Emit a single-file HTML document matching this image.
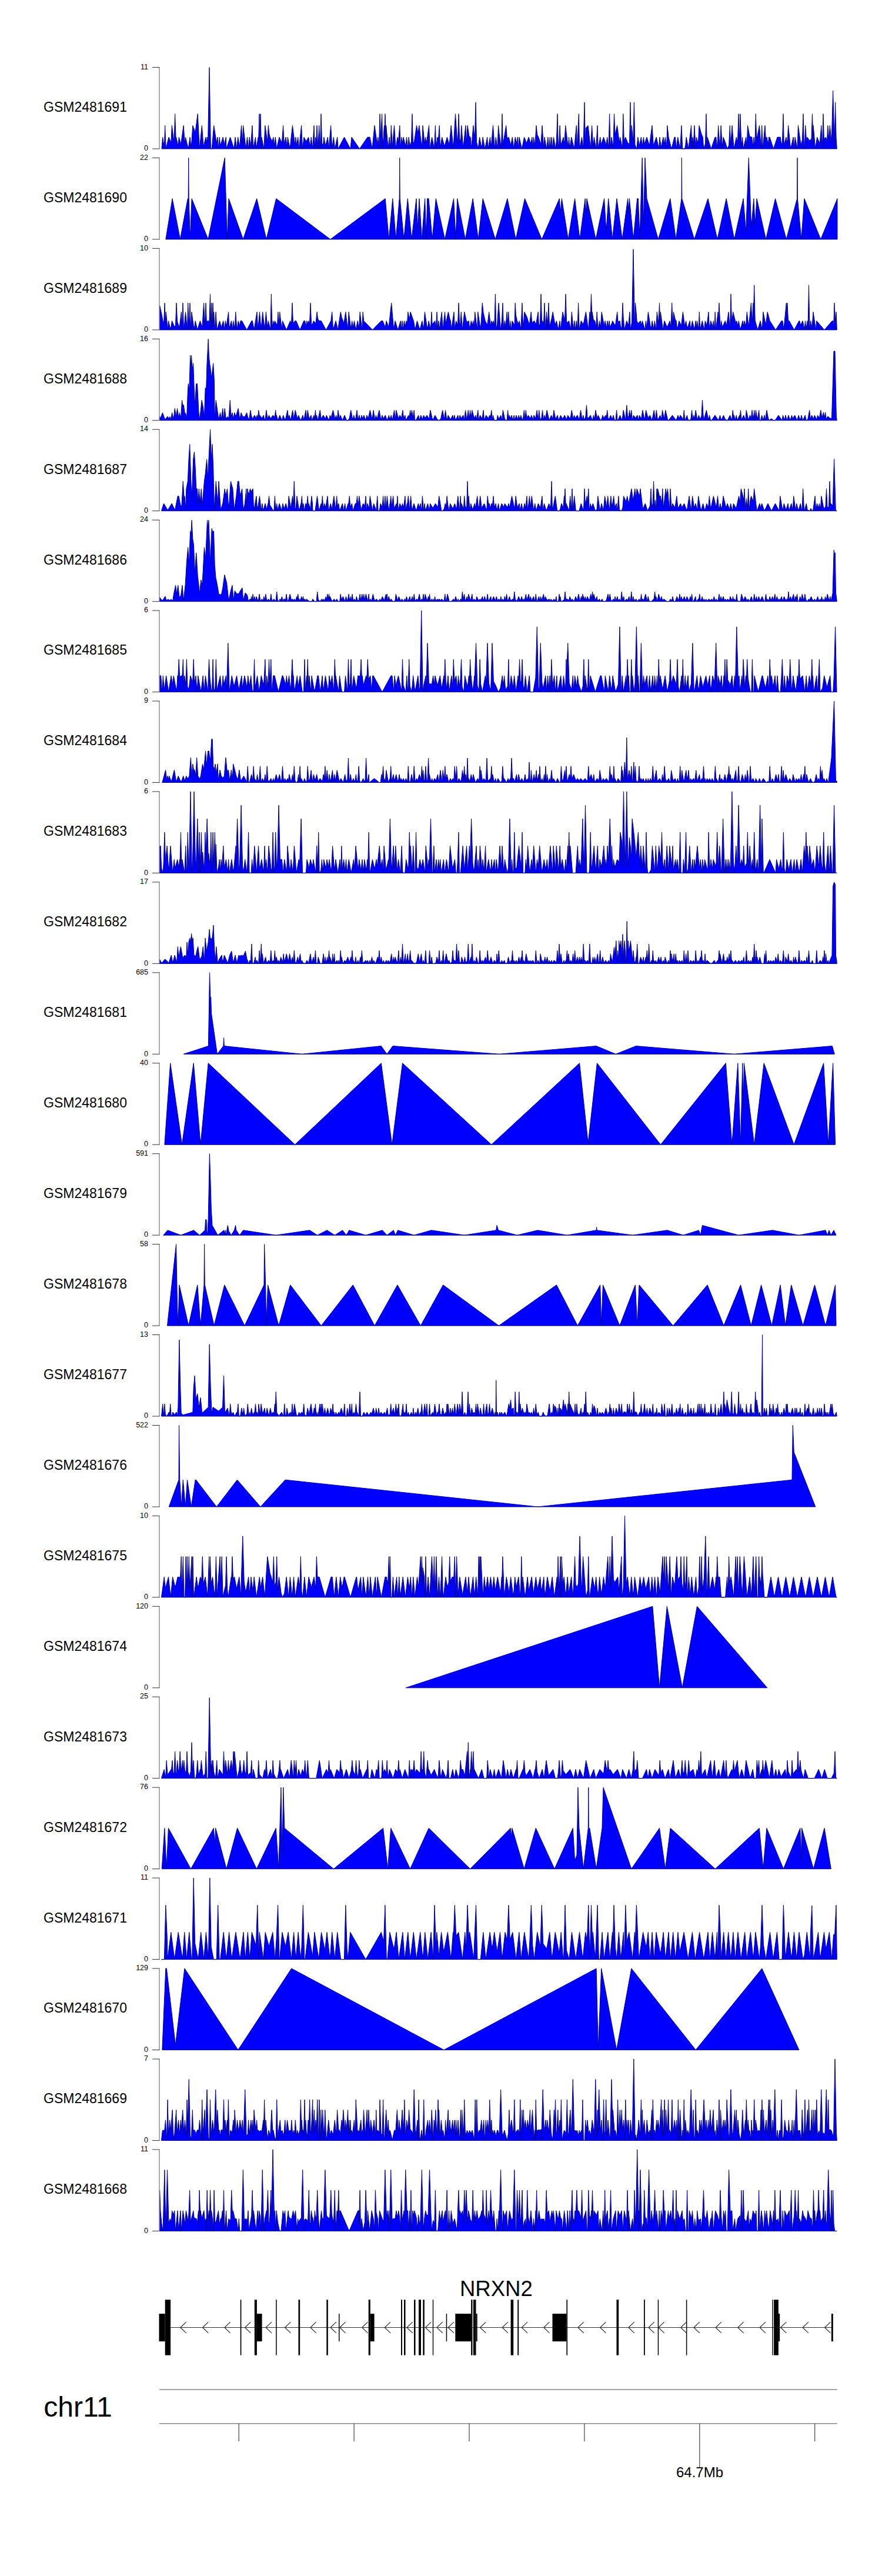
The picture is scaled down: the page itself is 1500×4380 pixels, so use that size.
<!DOCTYPE html><html><head><meta charset="utf-8"><style>
html,body{margin:0;padding:0;background:#fff;width:1500px;height:4380px;overflow:hidden}
svg{display:block}
text{font-family:"Liberation Sans",sans-serif}
.lab{font-size:23px;fill:#000}
.ax{font-size:12.5px;fill:#000;text-anchor:end}
</style></head><body>
<svg width="1500" height="4380" viewBox="0 0 1500 4380">
<rect width="1500" height="4380" fill="#fff"/>
<polygon points="275,253 276.6,233.2 279.4,250.5 280.6,213.4 282.2,253 287,233.2 291,242.4 292.3,213.4 296.1,241.9 297.6,193.6 299.1,234.9 299.6,233.2 303.1,248.6 304.3,233.2 307.7,245.4 312.1,213.4 314.3,244.1 315.5,233.2 320.2,253 323.1,233.2 325.1,253 327.8,213.4 332.1,225 336.2,193.6 339.3,253 343.4,213.4 346,249.4 350,233.2 351.2,243.2 352.5,233.2 353.6,244.3 356,114.5 358.4,253 360.3,253 363.7,213.4 368.4,243.1 370.1,233.2 371.4,253 373.4,233.2 374.6,248.5 379.2,233.2 381.5,245.9 384.3,233.2 385,253 391.5,233.2 398,253 400,233.2 402.6,253 404.7,233.2 407.6,250.5 410.5,213.4 412.4,245.2 413.6,213.4 418.2,253 420.5,233.2 422.4,253 424.3,233.2 426.3,250.8 429,213.4 430.7,253 434.5,233.2 435.9,253 439.2,233.2 439.5,245 441,193.6 441.5,238.6 443,193.6 444.5,253 444.9,233.2 448.9,253 450.8,213.4 455,241.7 456.3,213.4 457.8,227.2 459.2,233.2 463,240.5 464.8,233.2 466.5,246.8 468.4,233.2 470.5,253 474.9,233.2 479.4,243.2 481.6,213.4 483.1,244.4 486.2,233.2 488.1,253 489.3,233.2 493.1,253 497.4,213.4 501.7,246.5 502.9,233.2 504.6,246.9 506.7,233.2 508.5,253 512.6,213.4 514.5,253 517,233.2 520.7,240.5 524.6,233.2 527.5,249.4 529.2,233.2 531.7,253 534,213.4 535.2,253 536.5,233.2 537.8,239.9 539,213.4 540.8,253 542.7,213.4 544.5,253 546,193.6 547.5,243.1 549.5,248 550.8,233.2 553.6,248 557.4,233.2 559.3,253 562.6,213.4 564.8,253 567.4,233.2 569.5,253 573.7,233.2 575,253 585.5,233.2 596,253 598,233.2 611.5,253 625,233.2 629,233.2 633,253 637,213.4 641.5,244.7 642.8,233.2 644.5,253 646,193.6 647.5,234.3 649.6,193.6 650.8,253 653.5,213.4 653.5,236.9 655,193.6 656.5,235.5 656.7,213.4 660.2,253 662.1,233.2 664,253 665.3,213.4 667.3,249.8 670.5,213.4 673,253 676,233.2 677.3,243.8 679.8,213.4 681.2,253 682.7,233.2 684.2,243.5 686,233.2 690,248.9 691.5,233.2 693.8,253 695.2,233.2 697,248.3 699.5,241 701,193.6 702.5,245.4 704.6,240.1 708.5,213.4 710.8,226.7 712.9,213.4 717.5,253 719,213.4 722.2,244.3 723.7,233.2 725.2,244.2 729.5,213.4 731.2,253 734.6,233.2 738.5,253 740.4,213.4 741.6,253 743.8,233.2 745.3,238.7 747.3,213.4 748.6,253 751.7,233.2 755.9,248.9 760.4,233.2 764.1,246.5 767.2,213.4 771,253 774.5,193.6 777.6,240.1 778.5,241.8 780,193.6 781.5,234.7 783.3,243.3 784.8,213.4 787.7,253 791.9,213.4 793.3,243.7 795.1,213.4 797.9,231.7 800.1,233.2 801.6,253 804.9,213.4 807.5,238.5 807.5,235.6 809,173.9 810.5,241.3 813.2,253 815.6,233.2 819.2,253 821.1,233.2 824.7,253 828.7,233.2 829.9,253 833.6,233.2 835,253 838.5,213.4 841.3,253 843.3,233.2 846,253 847.6,213.4 848.8,225.9 852.5,253 854,193.6 855.5,253 856,242.5 860.7,213.4 862.4,235.6 865.2,233.2 868.8,247.1 871.3,233.2 873.8,253 876.2,233.2 878.9,244 880.2,233.2 881.5,253 883,233.2 887.5,253 891.6,233.2 895.6,243.7 899,233.2 902.7,244.2 904.9,233.2 906.2,253 907.5,233.2 909.9,246.8 912,213.4 913.7,229.1 915.8,233.2 920,245.7 922,213.4 924.8,253 926,233.2 929.6,253 931.9,233.2 933.4,253 935.4,233.2 936.6,253 938.1,233.2 939.3,253 941.5,233.2 944.8,253 946.5,238.8 948,193.6 949.5,253 950.7,245.9 952.1,213.4 953.7,247.3 958.2,233.2 959.8,246 961.7,213.4 966.3,251 967.6,233.2 968.8,253 971.8,233.2 976.5,253 980.3,213.4 981.5,253 984.3,193.6 985.6,253 989.6,233.2 991.6,253 992.5,234.8 994,173.9 995.5,253 996.2,218 1000.1,213.4 1004.5,253 1006.6,213.4 1009,253 1010.4,233.2 1013.7,253 1016,213.4 1017.2,253 1020.8,233.2 1022.3,245.9 1026.5,233.2 1030.8,246.1 1032.7,233.2 1034.7,248.8 1035.1,253 1036.6,193.6 1038.1,247 1038.7,247.2 1039.9,233.2 1042.9,249.9 1044.5,193.6 1046,229.2 1049.6,213.4 1053.3,242.6 1054.7,233.2 1058.6,253 1059.8,193.6 1061.3,241 1063.6,233.2 1067.5,242.4 1070.5,245.8 1072,173.9 1073.5,246.7 1074.2,213.4 1076.9,239.8 1078.4,173.9 1079.9,245.9 1082.9,253 1084.8,233.2 1087.4,247.7 1090.4,233.2 1092.3,248.4 1094.5,233.2 1095.9,245.3 1100,233.2 1104.4,247.7 1109,213.4 1111.3,247.8 1116.2,233.2 1120.6,253 1121.9,233.2 1124.4,250.7 1127.9,233.2 1129.7,245.1 1131.4,233.2 1133.5,253 1134.9,213.4 1137,233.2 1142,253 1147,233.2 1148.4,233.2 1150.2,253 1152.7,233.2 1156.7,253 1159,213.4 1160.7,253 1164.5,253 1165.8,246.8 1167.2,233.2 1170.8,253 1175.6,213.4 1176.8,253 1178,233.2 1179.2,250.3 1181,213.4 1183.1,253 1184.3,233.2 1187.4,244.6 1189,213.4 1192.7,227.3 1195.3,233.2 1196.7,253 1199.5,244.5 1201,193.6 1202.5,253 1203,233.2 1209.5,253 1216,233.2 1217.7,233.2 1220.1,253 1221.6,213.4 1224.2,253 1226.1,213.4 1228.3,249.8 1230.1,233.2 1234.1,243.7 1236.9,253 1239.6,247.2 1241.3,213.4 1242.6,248.1 1245.1,213.4 1248.1,253 1252.4,233.2 1254.4,246.3 1256.1,193.6 1257.5,240 1259,193.6 1260.5,238.4 1260.6,253 1262.6,233.2 1264,253 1268.7,233.2 1270.2,253 1271.5,213.4 1275,232.1 1278.8,233.2 1280.5,249.2 1282.1,233.2 1283.8,249.5 1285.3,193.6 1286.7,237.8 1291.5,213.4 1294.5,253 1295.7,213.4 1297.2,253 1301,213.4 1302.2,234.4 1304.2,233.2 1306.2,246.7 1307.6,233.2 1309,233.2 1315.5,253 1322,233.2 1327.2,233.2 1329.1,247.2 1330.5,241 1332,193.6 1333.5,253 1334.2,244.8 1336.9,233.2 1339.1,244.4 1340.6,213.4 1344.6,253 1349.2,233.2 1350.8,253 1352.1,233.2 1356.2,253 1357.4,213.4 1362.2,246.9 1364.5,237.5 1366,193.6 1367.5,253 1368.3,253 1369.7,213.4 1371.5,238.2 1373.3,233.2 1376.1,238.9 1380,236.6 1381.5,193.6 1383,246.2 1383.2,213.4 1386.6,253 1389.6,233.2 1394.2,244.4 1396.8,213.4 1398.5,253 1400,193.6 1401.5,241.2 1401.5,236.6 1404.4,233.2 1406.5,240.8 1407.8,213.4 1409.8,238.4 1411.3,213.4 1414.2,243.1 1416.6,154.1 1419,237.9 1419.1,253 1420.6,173.9 1422.1,235.2 1423.3,253" fill="#0000ff" stroke="#000090" stroke-width="1" stroke-linejoin="miter" stroke-miterlimit="40"/>
<path d="M271.0 114.5V253" fill="none" stroke="#888" stroke-width="1.4"/>
<path d="M259.1 114.5H271.5M259.1 253H271.5" fill="none" stroke="#333" stroke-width="1"/>
<text x="252" y="117.7" class="ax">11</text>
<text x="252" y="256.2" class="ax">0</text>
<text x="74" y="189.8" class="lab">GSM2481691</text>
<polygon points="281.9,406.9 281.9,406.9 293.1,337.7 306.4,406.9 319.3,337.7 320.2,337.7 320.7,268.4 321.2,337.7 323.4,406.9 326.1,337.7 354,406.9 382.2,268.4 386.3,406.9 389,337.7 413.5,406.9 436.7,337.7 453,406.9 469.7,337.7 561.8,406.9 655.2,337.7 661.4,406.9 667.8,337.7 673.3,406.9 679.2,337.7 679.7,268.4 680.2,337.7 686.9,406.9 693.3,337.7 700.1,406.9 708,337.7 710.3,388 713,337.7 717.5,406.9 722.6,337.7 725,406.9 726.7,337.7 729,337.7 735.2,406.9 741.3,337.7 756.6,406.9 771.6,337.7 775,406.9 777.7,337.7 791.3,406.9 804.2,337.7 813.4,406.9 821.2,337.7 842.3,406.9 862.9,337.7 877.2,406.9 892.5,337.7 921.4,406.9 951.4,337.7 953,362.9 955.4,337.7 966.3,406.9 977.6,337.7 986,406.9 995.2,337.7 996.5,362.9 998,337.7 1013.3,406.9 1027.6,337.7 1031,394.3 1034.7,337.7 1041.5,406.9 1049,337.7 1058.2,406.9 1067.7,337.7 1069,362.9 1070.4,337.7 1077.2,406.9 1083.7,337.7 1085.4,337.7 1088,406.9 1092.2,268.4 1094.5,381.7 1097,268.4 1100,337.7 1119.4,406.9 1139.8,337.7 1149.5,406.9 1159,337.7 1159.4,268.4 1159.8,337.7 1180.8,406.9 1204,337.7 1220,406.9 1235.2,337.7 1248.8,406.9 1264.1,337.7 1268.6,394.3 1273.3,268.4 1277.8,388 1281.8,337.7 1284.2,381.7 1287,337.7 1302.6,406.9 1318.6,337.7 1337.3,406.9 1355.6,337.7 1356,268.4 1356.4,337.7 1362.8,406.9 1367.9,337.7 1395.8,406.9 1424,337.7 1424,406.9 1424,406.9" fill="#0000ff" stroke="#000090" stroke-width="1" stroke-linejoin="miter" stroke-miterlimit="40"/>
<path d="M271.0 268.4V406.9" fill="none" stroke="#888" stroke-width="1.4"/>
<path d="M259.1 268.4H271.5M259.1 406.9H271.5" fill="none" stroke="#333" stroke-width="1"/>
<text x="252" y="271.6" class="ax">22</text>
<text x="252" y="410.1" class="ax">0</text>
<text x="74" y="343.8" class="lab">GSM2481690</text>
<polygon points="271.6,560.9 271.6,519.3 274.1,530.4 278.5,553.2 280,515.2 281.5,548.8 282.3,530.4 285.4,560.9 286.6,545.6 290,560.9 292.5,545.6 296.4,554.9 298.5,554.1 300,515.2 301.5,546.8 305.1,557.2 308.4,530.4 309.5,555.2 311,515.2 312.5,560.9 312.9,560.9 315.5,530.4 318.5,560.9 319.7,515.2 321.5,554.8 323,515.2 324.5,560.9 325.9,530.4 330.2,560.9 332.2,545.6 335.7,560.9 340.3,545.6 343.9,556.4 346.6,515.2 348.5,553.2 350,515.2 351.5,551.1 352.2,546.1 354.8,545.6 356,546.8 357.5,499.9 359,560.9 359.7,515.2 360.5,554.6 362,515.2 363.5,555.4 363.6,530.4 365.5,560.9 367.1,530.4 368.9,560.9 373.6,545.6 376.3,556.9 379.7,545.6 381.7,560.9 383.3,545.6 384.8,556.1 388.6,530.4 389.8,558.8 393.4,545.6 395.5,560.9 396.7,545.6 399.3,560.9 400.7,530.4 403,560.9 405.4,545.6 407.6,554.8 409.1,545.6 411.4,545.6 419.7,560.9 427.9,545.6 429.3,545.6 432.1,560.9 437,530.4 438.7,560.9 441.5,530.4 444,560.9 446.7,530.4 450.2,560.9 452.4,530.4 455,560.9 456.2,545.6 459.9,560.9 461.4,499.9 462.9,560.9 464.5,545.6 466.1,552.2 467.3,545.6 471.6,553.3 472.9,530.4 474.1,554.7 475.7,530.4 479.4,560.9 480.5,545.6 487.1,560.9 493.7,545.6 495.5,551.9 497,515.2 498.5,550.1 501.8,545.6 503.6,545.6 510.1,560.9 516.7,545.6 518.7,545.6 520.3,555.7 521.8,545.6 523.3,551.4 524.7,545.6 526.5,551.3 528,515.2 529.5,549.9 530.7,553.3 533.3,545.6 537,549.8 539.1,530.4 540.5,542.1 542.7,545.6 546.3,545.6 554.5,560.9 562.8,545.6 564.7,530.4 566.6,560.9 571.1,545.6 574.6,560.9 579.3,530.4 581,539.4 583.5,545.6 584.8,550.5 587.8,530.4 591.5,560.9 593.1,530.4 597,560.9 598.6,545.6 600.7,556.7 602.5,545.6 605.2,560.9 608.3,545.6 610.4,560.9 612.2,530.4 615.7,560.9 617.2,530.4 618.7,545.6 633.5,560.9 648.3,545.6 650.9,545.6 655.1,556.5 657.1,545.6 661.1,556.4 665.7,515.2 669.7,560.9 672,545.6 676.7,560.9 681.3,545.6 682.6,560.9 684,545.6 685.2,560.9 687.4,545.6 689.1,556.2 690.9,545.6 692.5,551.5 693.8,530.4 696.3,543.4 698,530.4 702.2,542.3 703.5,545.6 705.9,560.9 709.4,545.6 714.1,560.9 717.9,545.6 720.4,560.9 722.4,530.4 727,560.9 729,545.6 732.4,560.9 733.9,530.4 735.1,551.4 739.9,545.6 741.2,560.9 743,530.4 744.7,560.9 745.9,545.6 747.1,560.9 751.3,530.4 753.1,560.9 756.6,530.4 757.9,550.9 762.4,530.4 765.1,542.4 766.4,545.6 767.6,560.9 772,530.4 773.5,560.9 775.6,545.6 778.5,553.5 780,515.2 781.5,549.2 782.8,551.5 784.3,530.4 786.4,560.9 789.8,530.4 793.7,547.7 797.4,545.6 798.7,560.9 801.2,545.6 803.4,552.9 804.9,545.6 806.1,560.9 807.7,530.4 811.6,560.9 812.8,530.4 817.4,560.9 820.3,515.2 822.1,531.8 825.2,545.6 828.9,552.5 831.7,530.4 834.4,554.3 835.6,545.6 838,550.2 839.2,545.6 840.9,553.8 842.4,499.9 843.9,560.9 845.7,550.3 848,515.2 851.3,560.9 853.5,546 855,515.2 856.5,560.9 858.3,545.6 859.9,556.2 862.2,530.4 863.4,551.4 864.8,530.4 866.3,560.9 867.6,545.6 869.5,560.9 871,545.6 875,553 876.2,515.2 877.4,536.1 879.5,545.6 882,550.9 883.3,545.6 886.2,560.9 886.5,546.2 888,515.2 889.5,553.2 890.1,556.9 891.9,530.4 896.3,539.3 898.1,545.6 900.3,552.6 903.2,530.4 904.7,548.5 908.9,545.6 911.5,552.1 915.2,530.4 916.5,555.6 918.5,550 920,499.9 921.5,546.7 922.5,545.6 924.5,550.9 926,515.2 927.5,560.9 929.6,530.4 931.3,560.9 931.5,550.6 933,515.2 934.5,556.2 938.1,541.6 940.2,530.4 944,552.8 946.5,545.6 949.3,560.9 952,545.6 953.4,560.9 957,530.4 960.5,545.9 962,499.9 963.5,546.1 964.4,548.9 967.6,545.6 970.6,560.9 972.3,530.4 975.2,560.9 976.8,545.6 978.6,560.9 980.2,545.6 982.1,560.9 983.6,515.2 985.1,560.9 988.2,545.6 992.1,551.7 996.4,530.4 1000.6,560.9 1003,530.4 1004,546.4 1005.5,499.9 1007,545.9 1007.2,530.4 1009.1,542.9 1011.7,545.6 1013.9,555.7 1015.2,530.4 1017.1,560.9 1019.6,545.6 1021.1,560.9 1023.2,530.4 1027.4,553.8 1029.1,545.6 1031.6,558 1033,545.6 1034.4,555.4 1036.1,545.6 1037.6,557.1 1041.9,545.6 1046.4,554.4 1049.7,530.4 1051,547.3 1054.2,545.6 1056.3,560.9 1057.5,553.5 1059,515.2 1060.5,547.8 1060.7,545.6 1061.9,560.9 1065.8,545.6 1068.9,553.1 1070.9,530.4 1072.3,560.9 1074.6,548.1 1077,423.7 1079.4,551.9 1079.9,552.3 1080.5,515.2 1081.9,529.5 1083.1,545.6 1084.9,550 1089.3,545.6 1090.8,553.6 1092.4,545.6 1096.9,560.9 1098.3,545.6 1099.9,558.1 1102.4,530.4 1107.1,560.9 1109.1,545.6 1112.1,560.9 1113.3,545.6 1115.9,560.9 1117.3,530.4 1120,550.8 1121.5,515.2 1123,560.9 1123.4,530.4 1127.5,560.9 1129.9,545.6 1134.6,556.3 1139.2,545.6 1140.8,555.4 1141.2,552.9 1142.7,515.2 1144.2,553.3 1145.4,530.4 1148.3,542.9 1150.1,545.6 1151.7,560.9 1154.9,545.6 1158.7,553.7 1161.4,530.4 1164.7,555.7 1166.6,545.6 1168.8,558.3 1173.3,545.6 1174.6,560.9 1177.5,545.6 1181.2,560.9 1183,545.6 1184.2,558.5 1185.5,545.6 1188.1,560.9 1189.3,530.4 1190.7,560.9 1194.3,545.6 1197.7,560.9 1199.3,545.6 1202,554.4 1205,530.4 1206.6,560.9 1208.8,545.6 1211.9,555.5 1213.3,545.6 1215,560.9 1216.2,530.4 1217.4,560.9 1221.1,530.4 1221.5,550.5 1223,515.2 1224.5,546.5 1224.7,560.9 1226.6,545.6 1228.6,556.2 1233.3,545.6 1235.7,553.8 1239,530.4 1241.5,560.9 1243,499.9 1244.5,549 1246.7,530.4 1251.2,548.6 1252.7,545.6 1255,554.2 1256.3,545.6 1258.9,560.9 1263.1,545.6 1264.4,554.4 1265.9,545.6 1268.4,555.7 1270.3,530.4 1273.3,556.2 1277.4,515.2 1279.3,550.6 1280.9,515.2 1281.2,545.7 1282.7,484.7 1284.2,545.8 1284.3,545.6 1288.6,560.9 1293.1,545.6 1296.2,560.9 1297.9,530.4 1302.4,552.5 1305.2,530.4 1309.2,545.6 1319.1,560.9 1329.1,545.6 1330.9,545.6 1332.9,560.9 1337.3,515.2 1337.5,547.1 1339,515.2 1340.5,546 1341.6,545.6 1342.3,545.6 1350.6,560.9 1358.9,545.6 1359.8,545.6 1361.3,552.9 1365.2,545.6 1368.1,560.9 1369.5,545.6 1371,560.9 1372.9,545.6 1374,560.9 1375.5,484.7 1377,560.9 1378.7,545.6 1381,557 1383,530.4 1387.6,560.9 1388.8,545.6 1402,560.9 1415.3,545.6 1416.8,545.6 1417.5,560.9 1419,515.2 1420.5,546.8 1422,530.4 1423.3,560.9" fill="#0000ff" stroke="#000090" stroke-width="1" stroke-linejoin="miter" stroke-miterlimit="40"/>
<path d="M271.0 422.4V560.9" fill="none" stroke="#888" stroke-width="1.4"/>
<path d="M259.1 422.4H271.5M259.1 560.9H271.5" fill="none" stroke="#333" stroke-width="1"/>
<text x="252" y="425.6" class="ax">10</text>
<text x="252" y="564.1" class="ax">0</text>
<text x="74" y="497.7" class="lab">GSM2481689</text>
<polygon points="271.6,714.8 271.6,707.9 271.7,708.4 272.6,711.8 276.5,701.7 280.5,713.5 285,708.1 287,711.8 289,708.4 290.7,713.5 292.6,701.7 295.2,713.5 297.2,694.5 299.8,708.4 301.5,694.5 303.7,710.1 305.4,701.7 307.4,713.5 309.5,680.5 310.8,689.8 312.2,688.1 314.2,701.7 315.9,703.3 317.6,713.5 319.3,666 320.2,652.5 321.9,662.7 323.6,604.2 324.4,622 325.6,604.2 327,628.7 328.7,617.7 329.9,652.5 331.2,689.8 333.8,652.5 335.5,652.5 338,701.7 339.7,713.5 343.1,680.5 345.7,693.2 347.4,713.5 349.1,660.1 350.8,659.3 352,618.6 354.2,576.5 355.4,605 356.7,618.6 357.9,625.4 359.3,642.3 361,632.1 362.7,617.7 364.4,647.4 365.2,713.5 367.3,680.5 370.3,701.7 372,713.5 374.6,701.7 376.3,713.5 378.8,694.5 380.5,713.5 382.2,694.5 384.3,711.8 387.3,708.4 389,711.8 391.3,680.5 392.8,708.4 395,701.7 396.7,711.8 398.9,701.7 401,708.4 405.2,694.5 407.8,713.5 410,701.7 412.9,708.4 416.3,708.4 419.7,701.7 420.6,706.1 423.4,714.8 424.4,708.6 425.9,697.5 427.4,706.4 429.4,712.3 432.9,706.1 435.5,710.9 437.2,706.1 438.2,714.8 439.7,697.5 441.2,706.5 441.7,706.1 445.7,711.1 448.2,706.1 450.3,714.8 451.4,710.7 452.9,697.5 454.4,707.7 455.9,711.7 457.4,706.1 460.3,711.7 464.1,706.1 467.2,709.5 468.7,697.5 470.2,714.8 470.3,706.1 472.5,714.8 475.8,706.1 479.5,714.8 481.7,706.1 485.1,714.8 489,697.5 490.5,711.2 492,706.1 494.4,714.8 497.7,697.5 499.5,712.4 502.3,697.5 505.8,712.7 507.5,706.1 511.5,714.8 515,706.1 516.8,714.8 520,697.5 521.7,714.8 523.2,697.5 525.8,712.7 529,706.1 530.5,714.8 533.9,706.1 534.9,714.8 536.4,697.5 537.9,714.8 538.5,706.1 540.5,714.8 544.3,697.5 546.1,712 549.9,706.1 553.3,712.2 555.3,706.1 559.1,714.8 561.3,706.1 562.9,710.6 566.4,697.5 569.9,712.7 571.6,706.1 573.3,714.8 574.9,697.5 577.3,711.5 578.9,706.1 582.5,714.8 586,706.1 589.6,714.8 592,714.8 594.3,710.6 596.7,697.5 600.1,714.8 601.7,706.1 604.4,714.8 607.1,697.5 608.8,714.8 610.9,706.1 613.2,714.8 614.8,706.1 617,711.6 618.8,706.1 622,714.8 623.8,706.1 626.2,711.8 629.3,697.5 633,713.3 635.1,697.5 637.8,714.8 639.4,706.1 641.1,713.1 644.9,697.5 648.1,714.8 649.9,706.1 652.2,711.8 655.3,706.1 658.3,714.8 661.4,706.1 662.9,713.3 665.3,706.1 667.1,714.8 670.6,697.5 672.2,714.8 673.8,697.5 677.7,711.8 680,706.1 682.7,710.5 684.9,697.5 686.7,711.8 688.9,706.1 690.5,714.8 694.6,706.1 696.1,710 697.6,697.5 699.1,709.7 700.3,697.5 702.7,709.2 704.2,697.5 705.7,714.8 708.1,713.3 711.7,706.1 713.3,714.8 715.7,706.1 718.5,712.7 720.5,706.1 723,710.9 726,706.1 729.8,712.4 731.9,697.5 735.9,714.8 739.8,706.1 743.9,713.4 746.6,714.8 749.7,711.7 752.6,697.5 755.7,713.1 757.5,697.5 760,714.8 762.2,706.1 766.2,713.2 769.9,706.1 771.4,712.8 773,706.1 774.7,714.8 778.8,706.1 780.5,714.8 782.1,706.1 784.3,711 787.9,706.1 789.5,714.8 791.6,697.5 793.8,714.8 794.8,707.5 796.3,697.5 797.8,711.8 798,714.8 799.5,697.5 801.1,710.8 802.8,697.5 806.8,711.7 808.9,706.1 810.4,712.9 811.3,708.2 812.8,697.5 814.3,714.8 814.8,712.6 816.4,706.1 820,711.8 822.1,697.5 823.6,714.8 826.7,706.1 830.7,711.5 832.5,706.1 834.3,708.6 835.8,697.5 837.3,714.8 838.4,706.1 840.5,713.8 842.1,714.8 844.8,714.8 846.3,706.1 848.3,712.6 851.8,706.1 853.6,714.8 855.4,697.5 858.7,713.4 862.1,714.8 863.6,697.5 865.1,714.8 866,706.1 868.1,711.4 870.2,706.1 872.3,714.8 874.1,706.1 875.7,714.8 877.8,706.1 880.6,712.9 882.2,706.1 884.1,713.4 885.7,706.1 888.5,714.8 889.9,708.9 891.4,697.5 892.9,714.8 894.3,697.5 895.9,710.6 898.3,706.1 902.1,711.4 903.8,706.1 906.5,713.4 908,706.1 910.9,711.4 913.2,697.5 915.2,714.8 916.8,697.5 918.7,714.8 921.1,709.7 922.6,697.5 924.1,714.8 925.7,706.1 927.6,711.9 930.1,697.5 934.1,714.8 937.5,706.1 940.2,712 941.9,697.5 944.9,713 948.1,706.1 950.2,714.8 953.4,706.1 957,712.4 960.2,706.1 963.8,713.5 965.6,706.1 969.6,711.9 970.8,706.9 972.3,697.5 973.8,706.6 974.7,713.9 976.5,706.1 978,710.9 982,706.1 985.2,713.8 987.5,697.5 990.2,714.8 991.8,706.1 993.9,714.8 996,707.8 997.5,688.8 999,710.3 1000.6,711 1004.1,706.1 1007.6,714.8 1009.4,706.1 1011,714.8 1012.9,697.5 1015.7,712.1 1017.3,706.1 1019.5,710.6 1021.2,714.8 1023.2,712.2 1025.1,706.1 1026.7,710.8 1030.3,706.1 1031.2,711.4 1032.7,697.5 1034.2,710.7 1035.6,713 1038.5,706.1 1041.3,713.3 1043.1,706.1 1045.4,714.8 1047.1,714.8 1048.6,697.5 1050.1,714.8 1051,714.8 1054.4,706.1 1058.1,714.8 1060.1,697.5 1064,714.8 1064.3,708.8 1065.8,688.8 1067.3,706.4 1069.1,711.1 1070.6,697.5 1072.3,709.7 1073.8,697.5 1075.3,714.8 1077.4,706.1 1080.5,710.5 1084,706.1 1085.6,714.8 1087.5,706.1 1090.5,712.6 1092.9,697.5 1096.1,714.8 1098.6,697.5 1102.1,710.6 1105.4,706.1 1108.8,714.8 1112.3,697.5 1114.5,714.8 1116.3,697.5 1118.6,714.8 1122.6,706.1 1125,712.6 1126.5,697.5 1129.6,712.5 1131.8,697.5 1135.9,714.8 1137,714.8 1143.5,706.1 1150,714.8 1152.9,706.1 1155.1,711.7 1157,706.1 1160.4,710.5 1161.8,714.8 1163.3,697.5 1164.8,714.8 1165.8,713.2 1168.4,706.1 1170,713.3 1173.8,714.8 1175.1,711.1 1176.6,697.5 1178.1,714.8 1179.4,706.1 1181.4,712.4 1181.7,708.7 1183.2,697.5 1184.7,706.7 1185.9,714.8 1188.3,706.1 1190.6,712.5 1193,707.7 1194.5,680.2 1196,706.2 1197.5,712.4 1201.4,697.5 1205,714.8 1206.5,706.1 1208.7,714.8 1210,714.8 1216,706.1 1222,714.8 1224.5,706.1 1226.8,714.8 1230.4,706.1 1233.4,712.9 1237.2,714.8 1239,711 1241.5,706.1 1244.6,714.8 1244.7,714.8 1246.2,697.5 1247.7,709.5 1248.6,706.1 1250.1,714.8 1252.4,706.1 1253.9,714.8 1257.7,706.1 1258,711.5 1259.5,697.5 1261,714.8 1261.6,712.4 1264.8,706.1 1267.8,714.8 1269.3,697.5 1272.9,714.8 1275.3,706.1 1277.5,710.7 1279,697.5 1281.2,714.8 1282.7,697.5 1284.2,714.8 1285.4,697.5 1287.9,711.5 1289.1,708.4 1290.6,697.5 1292.1,714.8 1293.7,714.8 1295.6,706.1 1298.1,714.8 1300,706.1 1301.5,714.8 1303.9,697.5 1306.5,710.9 1308.1,714.8 1311.8,711.7 1315.8,714.8 1318,714.8 1324,706.1 1330,714.8 1331.5,706.1 1334.2,714.8 1335.9,706.1 1338.4,714.8 1340.9,706.1 1343.9,714.8 1346.5,706.1 1348,711.9 1351.7,706.1 1355.7,714.8 1358.1,706.1 1361.1,714.8 1362.9,706.1 1365.4,714.8 1369.3,706.1 1371.1,714.8 1372.7,714.8 1374.3,710.7 1376.7,697.5 1378.3,712.5 1380.6,706.1 1383.4,712.4 1385.4,706.1 1388.9,713.8 1390.5,706.1 1393.4,711 1395.9,697.5 1398,710.6 1400.5,700.9 1402,712 1403.6,700.9 1405,712 1408,707.9 1411,710.6 1414.5,712 1418,597.1 1420,597.1 1422.3,707.9 1423.3,714.8" fill="#0000ff" stroke="#000090" stroke-width="1" stroke-linejoin="miter" stroke-miterlimit="40"/>
<path d="M271.0 576.3V714.8" fill="none" stroke="#888" stroke-width="1.4"/>
<path d="M259.1 576.3H271.5M259.1 714.8H271.5" fill="none" stroke="#333" stroke-width="1"/>
<text x="252" y="579.5" class="ax">16</text>
<text x="252" y="718" class="ax">0</text>
<text x="74" y="651.6" class="lab">GSM2481688</text>
<polygon points="274.5,868.7 278.5,856.1 285.3,867.4 292.1,856.1 297.6,867.4 302.3,843.4 304,843.4 306.6,857.3 308.8,862.4 311.3,818.3 313.4,850.5 314.2,843.7 315.9,867.4 316.8,831.8 319.3,818.3 321,781 322.7,755.5 324.4,806.4 326.1,850.5 328.7,781 330.4,768.3 332.1,793.7 333.8,831 335.5,831 336.7,855.6 338.4,831 340.1,855.6 342.3,831 344,860.7 347.4,818.3 349.1,806.4 351.6,781 353.7,813.2 355,781 357.6,730.5 359.3,781 361,755.5 362.7,793.7 364.4,867.4 367.3,818.3 370.3,857.3 372,818.3 375.4,867.4 378.8,855.6 380.5,843.7 382.2,831 383.9,843.7 386.5,831 389,867.4 392.4,818.3 395.9,831 398.4,867.4 401.8,843.7 404.4,818.3 406.1,818.3 408.6,843.7 411.7,831 413.7,867.4 416.3,857.3 418.8,831 420,867.4 420.9,830.9 422.9,841.8 425.6,830.9 427.2,836.2 430.1,830.9 431.7,868.7 436,843.5 437.8,868.7 441.5,843.5 444.3,868.7 445.9,856.1 447.6,868.7 451,856.1 453.6,866.1 455.8,856.1 456,856.8 457.5,843.5 459,858.4 463.5,866.2 465.9,868.7 467.4,843.5 468.9,868.7 470.6,856.1 472.2,867.2 475.2,856.1 479.1,868.7 480.8,856.1 483.4,865.4 486.1,856.1 489.5,868.7 491.1,843.5 494.7,864 497.5,843.5 498.8,858 500.3,818.4 501.8,863.6 503.1,864.7 504.9,843.5 508.8,868.7 511.8,856.1 511.9,857.7 513.4,843.5 514.9,868.7 515.8,856.1 517.6,868.7 519.7,856.1 521.8,858.2 523.3,843.5 524.8,868.7 525.2,856.1 527.7,866.1 528.4,858.8 529.9,843.5 531.4,856.2 532,868.7 534.4,868.7 535.9,868.7 539.5,843.5 542.4,868.7 546.1,856.1 546.8,863.9 548.3,843.5 549.8,863.5 550,865.9 551.6,856.1 553.8,862.7 557,843.5 559,868.7 562.3,856.1 564.5,866.2 567.9,843.5 571.1,868.7 572.6,843.5 574.1,860.6 575.8,856.1 577.7,868.7 582.4,856.1 584.4,868.7 586.7,856.1 588.3,868.7 592.1,856.1 592.8,857.1 594.3,843.5 595.8,862.3 598.5,856.1 600.2,868.7 604.3,856.1 606,856.2 607.5,843.5 609,863 610.8,843.5 614.1,867.3 617.5,856.1 620.5,860 622,843.5 623.5,868.7 624.9,856.1 627.6,865.2 629.3,843.5 633.4,868.7 635.6,856.1 640.1,868.7 640.2,863.9 641.7,843.5 643.2,868.7 645.3,868.7 647.1,856.1 650.1,862 651.6,843.5 653.1,868.7 654.9,843.5 656.8,865.3 658.3,843.5 661.1,868.7 663.2,856.1 663.2,857.9 664.7,843.5 666.2,860.6 668.7,843.5 670.3,864.4 674.3,856.1 674.4,868.7 675.9,843.5 677.4,868.7 680,856.1 682.7,862.5 684.6,856.1 686.2,865.1 688.9,843.5 690.5,868.7 692.3,856.1 692.8,856.6 694.3,843.5 695.8,858.9 696.4,868.7 698.6,843.5 700.7,868.7 703.9,856.1 707.9,868.7 711.3,856.1 713.4,863.5 714.9,856.1 716.9,868.7 718.4,843.5 720.5,868.7 722.1,856.1 723.6,868.7 727.5,856.1 730.1,868.7 731.6,856.1 736.2,863.9 740.5,856.1 744.6,862.8 746.7,843.5 750.9,868.7 752.8,868.7 755.5,864.6 757.2,856.1 758.6,862.3 760.1,843.5 761.6,858 763.8,868.7 765.6,856.1 770.1,865.1 773.5,856.1 776.3,867.2 778.8,843.5 781.7,868.7 783.2,843.5 784.7,868.7 784.8,856.1 788.1,865.1 788.2,868.7 789.7,843.5 791.2,860.7 792.7,862.5 793.5,868.7 795,818.4 796.5,860.5 797.1,843.5 799.1,868.7 800.7,856.1 804,866.8 807.2,856.1 808.7,864 811.7,843.5 814,868.7 816.7,843.5 819.2,863.6 823.6,856.1 827.7,868.7 829.2,843.5 830.7,856.7 832.3,856.1 833.8,865 835.8,856.1 837.6,858.5 839.1,843.5 840.6,863.2 843.3,856.1 844.9,868.7 847.7,856.1 849.3,868.7 853.2,856.1 856.9,862.4 858.4,856.1 863.1,863 864.9,856.1 866.7,863.3 870.5,843.5 875.3,866.2 877.1,843.5 879.9,863.1 883.2,856.1 884.7,868.7 886.8,856.1 889.8,868.7 891.9,856.1 894,863.4 895.9,843.5 897.6,868.7 900.5,843.5 902,864.1 904.3,843.5 907.7,868.7 909.7,856.1 912,868.7 915.3,856.1 919.1,863.4 921.9,843.5 923.4,868.7 925.5,856.1 929.1,868.7 933.6,856.1 936.5,864.5 938,818.4 939.5,868.7 940,865.9 944.3,843.5 947.7,868.7 951.1,868.7 952.7,865.9 954.9,856.1 957.9,863.3 959.5,843.5 959.5,861 961,830.9 962.5,864.7 963,856.1 967.8,868.7 969.7,843.5 971.5,868.7 973,830.9 974.5,868.7 976.7,843.5 979.3,868.7 981,868.7 984.9,868.7 988.3,856.1 990.9,864.2 992.5,868.7 994,830.9 995.5,859.3 998.3,843.5 999.3,857.8 1000.8,830.9 1002.3,868.7 1004.3,856.1 1005.8,864 1008.4,856.1 1011.9,866.9 1013.5,868.7 1015.2,865.1 1016.8,843.5 1020.5,868.7 1023,856.1 1026.2,868.7 1028.6,843.5 1031.8,862.7 1033.7,843.5 1036.3,868.7 1038.9,843.5 1040.8,863.6 1043.7,843.5 1045.6,863 1048.3,856.1 1049.8,868.7 1051.9,843.5 1053.5,866.9 1056.9,868.7 1059,863.1 1060.5,843.5 1064.8,852.9 1066.7,843.5 1069.2,856.7 1073.9,830.9 1076.8,851.1 1079.8,830.9 1081.3,846.5 1083.2,830.9 1087.5,844 1089,830.9 1093.3,865.7 1097.3,856.1 1101.4,868.7 1105.5,859.8 1107,830.9 1108.5,862.5 1110.1,857 1111.6,818.4 1113.1,864.2 1114.3,850.6 1115.5,868.7 1117,830.9 1118.5,864.1 1118.5,830.9 1121.6,844 1123.3,843.5 1125.3,858.6 1126.8,830.9 1128.3,864.4 1132.2,830.9 1133.7,843.6 1135.5,830.9 1138.5,868.7 1140,830.9 1141.5,856.3 1142.1,865.7 1143.7,856.1 1147.9,863.1 1150.9,843.5 1153,864.5 1157.5,856.1 1159.5,862.9 1163.6,856.1 1168.2,868.7 1172.1,843.5 1175.4,868.7 1177.6,843.5 1180.9,864.8 1183,856.1 1185.9,867.3 1187.7,843.5 1192.1,868.7 1195.6,856.1 1198.8,868.7 1201.8,856.1 1204.6,863.1 1206.4,843.5 1208.7,866 1213.4,843.5 1218.1,863.2 1220.5,843.5 1222.8,868.7 1224.8,856.1 1227.1,867.5 1230.1,843.5 1234.8,863.8 1237,856.1 1240.9,866.3 1242.6,856.1 1245.8,868.7 1247.3,856.1 1252,864.4 1256.6,843.5 1258.4,855.4 1260.3,830.9 1264.5,847.5 1264.5,862.2 1266,830.9 1267.5,864.9 1269.5,847.8 1271.2,868.7 1272.7,830.9 1274.2,868.7 1275.7,851.4 1277.5,843.5 1281.1,852.4 1282.6,830.9 1287.2,868.7 1291.9,856.1 1293.4,863.4 1295.7,856.1 1300,868.7 1306,856.1 1312,868.7 1312,868.7 1318.5,856.1 1325,868.7 1326.8,843.5 1331.1,868.7 1333.3,856.1 1336.8,867.2 1340.1,856.1 1341.8,868.7 1345.8,856.1 1348.2,868.7 1349.7,843.5 1353.3,868.7 1354.8,856.1 1357.8,868.7 1361.4,856.1 1363.7,868.7 1364.1,868.7 1365.6,830.9 1367.1,859.2 1368.2,868.7 1371.3,856.1 1373.1,866.7 1377,868.7 1379,864.5 1381.1,868.7 1382.8,867.1 1386.1,843.5 1387.7,868.7 1389.4,856.1 1391.9,864.1 1393.4,856.1 1395.2,868.7 1396.8,843.5 1401.1,865.3 1404,861.2 1405.5,830.9 1407,861.7 1409.5,863.3 1411,818.4 1412.5,859.7 1413,856.1 1416.2,859.8 1418.6,780.6 1421,859.7 1421.3,868.7 1423.3,868.7" fill="#0000ff" stroke="#000090" stroke-width="1" stroke-linejoin="miter" stroke-miterlimit="40"/>
<path d="M271.0 730.2V868.7" fill="none" stroke="#888" stroke-width="1.4"/>
<path d="M259.1 730.2H271.5M259.1 868.7H271.5" fill="none" stroke="#333" stroke-width="1"/>
<text x="252" y="733.4" class="ax">14</text>
<text x="252" y="871.9" class="ax">0</text>
<text x="74" y="805.6" class="lab">GSM2481687</text>
<polygon points="271.6,1022.7 271.6,1015.7 276,1021.5 281.1,1013.9 282.8,1020.7 286.2,1019 288.7,1020.7 291.3,1019 293.8,1021.5 295.5,1009.6 298.6,995.2 300.6,1009.6 302.8,995.2 304.9,1014.7 307.4,1013.9 310,995.2 312.2,1021.5 315.1,995.2 317.6,953.7 319.7,930.8 321.5,960.5 323.6,902.8 324.8,909.6 326.1,884.5 327.8,916.4 329.5,926.5 331.2,974 333.8,940.1 336.3,980.8 338,994.4 339.4,1009.6 341.8,985.9 344,994.4 347.4,930.8 349.6,950.3 352.5,884.5 353.3,896 355,884.5 357.6,957.1 360.1,898.6 361.8,904.5 363.5,902.8 365.2,960.5 366.9,981.7 369.5,994.4 372,1009.6 374.6,1011.3 376.8,1009.6 378.8,999.5 381.9,977.4 385.6,991 389,1021.5 392.4,1004.6 395,995.2 397.2,1021.5 399.3,1004.6 402.7,1009.6 406.1,1009.6 408.6,1004.6 412,999.5 413.7,1021.5 417.1,1007.9 420,1011.3 421.1,1014.3 422.5,1022.7 425,1018.5 426.3,1021.1 427.7,1014.3 428.9,1021.8 430.1,1010.2 431.3,1021.2 432.8,1014.3 434.3,1021.2 436.1,1014.3 438.7,1021.7 439.6,1019.5 441.1,1010.2 442.6,1020.2 443,1022.7 445.3,1018.5 447.5,1021.5 448.7,1014.3 450.1,1021.9 451.8,1010.2 453.9,1021.7 456.6,1018.5 459.3,1022.7 460.8,1010.2 462.3,1019.6 463.4,1021.5 465.9,1018.5 468.1,1021.6 469.2,1021 470.7,1006 472.2,1020.1 474.5,1022.7 476,1018.5 477.2,1021.4 479.4,1014.3 481.5,1022.7 482.7,1018.5 485.6,1019.6 487.1,1010.2 488.6,1020.5 490,1022.7 493.2,1010.2 495.6,1020.7 497.4,1018.5 499.1,1020.8 500.8,1018.5 502.4,1022.1 504.7,1014.3 505.3,1018.7 506.8,1010.2 508.3,1020.8 509.1,1018.5 510.6,1020.9 512.8,1014.3 514.3,1021 515.5,1014.3 516.8,1020.6 518.5,1018.5 520,1022.7 521.4,1018.5 523.6,1020.6 527.1,1022.7 530.1,1022.7 531.8,1018.5 535.1,1022.7 538.2,1022.7 539.7,1006 541.2,1019 544,1022.7 547.3,1018.5 548.5,1021.6 549.8,1018.5 551.2,1022 554.5,1014.3 555.7,1020.8 556.9,1010.2 558,1019.4 559.5,1010.2 561,1021.2 561.3,1014.3 564.9,1022.7 568.3,1018.5 570.7,1022.2 572.8,1018.5 575.3,1022.7 577.7,1022.7 579.2,1010.2 580.7,1019.8 583.4,1014.3 586.6,1022.7 588.4,1014.3 591,1022.7 593,1010.2 595,1022.2 596.5,1014.3 597.8,1022 599.1,1010.2 600.8,1022.7 602.4,1018.5 605,1021.6 606.2,1014.3 608.9,1022.7 610.6,1019.3 612.1,1010.2 613.6,1020.1 613.8,1021.9 615.8,1010.2 617.2,1019.5 618.7,1010.2 620.2,1020.5 622.3,1010.2 625.7,1022.7 627.1,1010.2 628.4,1022.7 629.9,1018.5 631.6,1022.7 634.4,1010.2 637,1021.6 640.2,1018.5 643.6,1022.2 646.1,1018.5 647.8,1021.6 650.2,1014.3 653.5,1020.8 656.5,1010.2 656.7,1021 658.2,1010.2 659.7,1022.7 661.1,1014.3 663.8,1021.6 665.2,1018.5 667.6,1021.8 669.6,1022.7 672,1021 673.3,1010.2 676.3,1021.6 678.2,1014.3 681.5,1021.8 683.5,1018.5 686.4,1022.7 688,1018.5 689.3,1021.3 691.5,1014.3 693.6,1022.7 697,1014.3 698.5,1022.7 701.4,1014.3 702.7,1022.7 704.2,1010.2 705.7,1020.5 706.9,1020.9 708.6,1018.5 710.6,1020.6 713.3,1010.2 715,1021 717.2,1018.5 718.4,1022.7 719.9,1010.2 721.9,1022.2 723.1,1010.2 726.3,1021.2 728.7,1014.3 729,1022.7 730.5,1010.2 732,1022.7 734,1018.5 735.3,1022.7 736.5,1018.5 738.2,1022.7 739.6,1014.3 740.9,1021.9 743.6,1018.5 745.1,1021.1 746.3,1018.5 749.8,1020.6 751.3,1018.5 753.9,1021.6 755.3,1020.9 756.8,1010.2 758.3,1022.7 758.7,1021.9 761.1,1010.2 764.2,1022.7 765.7,1022.7 769,1021.5 771,1018.5 773.1,1021.1 774.9,1014.3 777.7,1022.7 779.2,1018.5 780.4,1022.7 783.5,1018.5 784.9,1020.3 786.4,1006 787.9,1019.4 788.2,1019.6 789.7,1010.2 791.2,1022.7 791.7,1021.1 794.5,1014.3 795.7,1022.7 796.9,1010.2 800.3,1022 802.9,1010.2 804.1,1021.2 806,1018.5 809.3,1021.4 810.7,1014.3 813.9,1020.9 816.4,1018.5 817.6,1020.8 820.6,1014.3 821.9,1022.7 824.2,1014.3 826.5,1021.6 827.7,1019 829.2,1010.2 830.7,1022.7 831.7,1020.9 834.7,1014.3 836.5,1022.7 839.2,1014.3 842.7,1021.1 844.3,1014.3 846.7,1022.7 847.9,1018.5 850.6,1020.8 851.8,1014.3 853.2,1021.3 854.8,1018.5 856.8,1021.5 858.3,1014.3 859.9,1022.7 860.1,1019.1 861.6,1010.2 863.1,1020.8 864.2,1021 866.5,1014.3 868.6,1021.5 871.9,1018.5 873.3,1021 874.8,1006 876.3,1018.7 879,1022.7 882,1014.3 885.1,1021.7 887.1,1014.3 889.1,1021.1 890.5,1018.5 892,1020.8 894.5,1010.2 895.7,1021 899.3,1010.2 900.9,1021.9 902.3,1014.3 904.2,1021.5 907.4,1014.3 909.8,1022.7 911.3,1010.2 912.8,1022.7 913.5,1022.7 916.4,1014.3 918.4,1021.5 919.6,1014.3 921.1,1021.2 924.5,1010.2 926.1,1022.7 927.3,1014.3 930.7,1020.7 934,1018.5 935.5,1022.7 937,1018.5 938.9,1021.8 942.2,1018.5 944.3,1022.7 945.9,1014.3 947.2,1022.7 949.6,1022.7 951.1,1010.2 952.6,1020.7 952.7,1014.3 954.3,1022.2 956.3,1022.7 957.5,1020.6 959.5,1020.3 961,1006 962.5,1019.5 964.2,1018.5 967.5,1020.6 969.1,1014.3 971.9,1021.7 973.3,1018.5 976.4,1022.7 978.9,1014.3 981.5,1020.8 983.9,1010.2 986.5,1022.7 988.4,1014.3 989.4,1019.1 990.9,1010.2 992.4,1020.8 992.6,1014.3 994.2,1021.4 995.4,1014.3 997,1021 999.1,1014.3 1002.2,1021.4 1004.7,1010.2 1006,1020.1 1007.5,1006 1009,1020.8 1009.8,1010.2 1012.8,1020.6 1015.2,1014.3 1016.4,1022.1 1019.4,1018.5 1021.6,1022.7 1023.9,1018.5 1026.2,1022.7 1027.9,1022.7 1031,1021.2 1034,1010.2 1035.8,1019.6 1037.3,1010.2 1038.8,1019.6 1040.3,1022.7 1042.9,1018.5 1044.7,1020.7 1046,1014.3 1047.5,1021.6 1050,1014.3 1051.3,1021.3 1053.5,1018.5 1054.7,1022 1055.7,1021.4 1057.2,1006 1058.7,1019.9 1060.8,1014.3 1062,1022 1065.5,1018.5 1067.1,1021.5 1069.9,1014.3 1071.5,1021.7 1072.3,1021.4 1073.8,1006 1075.3,1022.7 1075.4,1021.3 1076.9,1014.3 1078.1,1022.7 1079.6,1018.5 1080.8,1022.7 1082.1,1018.5 1083.5,1022.7 1087,1018.5 1089.3,1021.2 1090.6,1010.2 1091.8,1021.3 1093,1018.5 1095,1020.6 1097.8,1010.2 1100.9,1022.7 1102.2,1014.3 1104.1,1021.9 1107.5,1022.7 1108.8,1021.5 1111.7,1018.5 1112.1,1020.5 1113.6,1006 1115.1,1020 1115.7,1014.3 1117.7,1022.7 1120.2,1010.2 1123.4,1021.4 1124.8,1014.3 1127,1021 1128.9,1018.5 1132,1020.9 1134.8,1022.7 1137.7,1022.7 1140.3,1018.5 1142.5,1021.9 1143.8,1014.3 1145.9,1022 1147.1,1022.7 1148.3,1022.7 1151.2,1014.3 1154.2,1021.8 1155.9,1010.2 1157.3,1021.2 1158.6,1014.3 1160.9,1021.1 1163.8,1014.3 1166.2,1021.8 1168.3,1014.3 1171.6,1021.8 1174.1,1014.3 1175.1,1022.7 1176.6,1010.2 1178.1,1022.7 1180.3,1020.7 1182.9,1014.3 1184.1,1022.7 1187.5,1018.5 1188.3,1020.2 1189.8,1010.2 1191.3,1020.8 1191.9,1022.1 1194.3,1014.3 1195.7,1021.7 1197.6,1018.5 1199.1,1022.7 1200.7,1018.5 1202.7,1022.1 1205.3,1018.5 1208.4,1020.7 1210.7,1018.5 1212.2,1021.9 1214.5,1014.3 1216,1020.7 1218.3,1018.5 1220,1022.7 1221.5,1019.1 1223,1010.2 1224.5,1020.5 1224.6,1022.7 1226.1,1014.3 1227.7,1021.1 1230,1014.3 1232.3,1020.6 1234,1018.5 1235.4,1021.7 1237.5,1018.5 1240.3,1021.4 1241.9,1014.3 1245.2,1021.5 1246.5,1014.3 1247.7,1020.8 1249,1018.5 1250.5,1020.8 1251.3,1022.7 1252.8,1010.2 1254.3,1021.3 1257.1,1022.7 1259.2,1021.7 1261.1,1010.2 1264.3,1020.9 1267.2,1014.3 1270.5,1021.1 1272.4,1018.5 1274.6,1022.7 1277.8,1014.3 1280.6,1022.7 1281.2,1022.7 1282.7,1010.2 1284.2,1019 1284.4,1022.7 1286.6,1014.3 1288.1,1022.1 1290.5,1014.3 1292.8,1021.4 1296.2,1014.3 1299.1,1021.5 1300.9,1022.7 1301.1,1019.3 1302.6,1010.2 1304.1,1022.7 1304.8,1018.5 1307.1,1021.4 1309.3,1014.3 1311.1,1021.6 1313.6,1014.3 1315.6,1021 1318,1010.2 1319.3,1021.8 1321.4,1014.3 1323.5,1021.3 1324.7,1018.5 1326.2,1020.7 1329.4,1014.3 1330.9,1022.7 1333.5,1014.3 1336.9,1021.5 1338.1,1018.5 1339.5,1020.1 1341,1006 1342.5,1020.9 1344.7,1014.3 1346.1,1021.4 1349.5,1010.2 1351.3,1021.5 1353,1014.3 1354.1,1019.3 1355.6,1010.2 1357.1,1022.7 1358.8,1022 1360.6,1014.3 1362.4,1020.6 1364.3,1010.2 1366.9,1020.9 1367.4,1020.5 1368.9,1010.2 1370.4,1018.9 1372.9,1022.7 1375.4,1018.5 1376.6,1020.7 1379.6,1014.3 1382.6,1021.8 1385.5,1018.5 1387.7,1022.1 1390.7,1014.3 1392.6,1021.9 1394.6,1018.5 1396,1021.2 1397.5,1014.3 1399.2,1022.7 1400.5,1018.5 1401.9,1022.7 1403.5,1014.3 1404.9,1022 1407.1,1010.2 1410.4,1021.4 1411.9,1014.3 1413.1,1021.7 1414,1018.5 1416.1,1008.8 1418.2,935.4 1419.1,942.3 1420.3,939.6 1421.5,1008.8 1422.5,1015.7 1423.3,1022.7" fill="#0000ff" stroke="#000090" stroke-width="1" stroke-linejoin="miter" stroke-miterlimit="40"/>
<path d="M271.0 884.2V1022.7" fill="none" stroke="#888" stroke-width="1.4"/>
<path d="M259.1 884.2H271.5M259.1 1022.7H271.5" fill="none" stroke="#333" stroke-width="1"/>
<text x="252" y="887.4" class="ax">24</text>
<text x="252" y="1025.9" class="ax">0</text>
<text x="74" y="959.5" class="lab">GSM2481686</text>
<polygon points="271.6,1176.6 271.6,1148.9 273.6,1148.9 275.8,1176.6 277.3,1148.9 279.4,1173.4 282.7,1148.9 286.6,1176.6 291.1,1148.9 293.5,1163.6 295.3,1148.9 300.4,1176.6 302,1148.9 302.7,1155.2 304.2,1121.2 305.7,1151.7 307.9,1148.9 309.9,1149.4 311.4,1121.2 312.9,1176.6 313.7,1148.9 315.9,1164.1 317.4,1121.2 318.9,1167.7 321.2,1172.2 323.8,1148.9 327.7,1159.8 329.2,1121.2 330.7,1163.7 333,1148.9 335.1,1176.6 336.8,1148.9 341.9,1176.6 345.2,1148.9 347.2,1176.6 349.4,1148.9 352.3,1168.3 353.9,1176.6 354,1161.1 355.5,1121.2 357,1153.2 359.2,1172.8 360.6,1176.6 362.1,1121.2 363.6,1176.6 364,1176.6 365.9,1168 367.4,1121.2 368.9,1176.6 370,1168.9 374.5,1148.9 376.9,1176.6 379.2,1148.9 380.7,1164.6 384.4,1148.9 385.4,1176.6 387.8,1093.5 390.2,1176.6 394.2,1148.9 398,1167.3 402.6,1148.9 406.1,1173.2 410.9,1148.9 412.4,1169.7 415.9,1148.9 420.2,1169.6 421.7,1148.9 424.3,1167.5 426.7,1148.9 428.9,1172.9 431,1176.6 432.5,1121.2 434,1176.6 434.4,1166.4 437.6,1148.9 440.7,1176.6 444.2,1148.9 448.4,1165.8 449.4,1150.6 450.9,1121.2 452.4,1176.6 453.7,1148.9 456,1167.3 457.5,1121.2 459,1166.2 459.3,1161.8 460.8,1121.2 462.3,1176.6 463.1,1169.6 464.6,1148.9 467,1148.9 473.5,1176.6 480,1148.9 481.1,1148.9 485.7,1163.9 487.4,1148.9 489,1166.5 491.6,1148.9 494.2,1176.6 495.5,1153.8 497,1121.2 498.5,1153.4 499,1148.9 500.8,1176.6 505.4,1148.9 507,1168 510.4,1148.9 512.8,1166.9 514.3,1176.6 516.5,1176.6 518,1121.2 519.5,1176.6 521.5,1148.9 521.8,1166.2 523.3,1121.2 524.8,1176.6 525.9,1148.9 528.8,1176.6 530,1148.9 535,1176.6 540,1148.9 541.5,1148.9 544.7,1176.6 548.1,1148.9 549.8,1176.6 553.4,1148.9 558.3,1176.6 559.9,1148.9 562.2,1163.4 564.7,1148.9 567.8,1176.6 569.3,1121.2 570.8,1158.7 570.9,1148.9 575.9,1176.6 577.5,1148.9 580.4,1170.7 581.9,1176.6 585.6,1176.6 587.5,1148.9 590.9,1176.6 592.4,1121.2 593.9,1167.2 595.5,1161.5 597,1121.2 598.5,1176.6 601.6,1148.9 606.1,1171.9 608.7,1148.9 612.6,1149.8 614.1,1121.2 615.6,1158.3 616.2,1148.9 618,1165.5 622.7,1148.9 623.8,1155.4 625.3,1121.2 626.8,1154.8 629.9,1148.9 631.9,1176.6 633.7,1148.9 635,1148.9 650,1176.6 665,1148.9 666.9,1148.9 669.6,1176.6 671.1,1148.9 673.3,1165.5 677.5,1148.9 681.6,1168.4 683,1176.6 684.5,1121.2 686,1165.1 690,1176.6 691.8,1148.9 693.5,1176.6 694.2,1166.2 695.7,1121.2 697.2,1166.6 700.1,1176.6 702.7,1148.9 705.8,1176.6 710.9,1148.9 713.5,1176.6 714.3,1167.3 716.7,1038.1 719.1,1176.6 720.4,1166.4 724.1,1148.9 724.6,1176.6 727,1093.5 729.4,1162.3 734.3,1163.3 736.7,1148.9 738.2,1164.7 740,1148.9 744,1165.5 748.4,1148.9 751.1,1171.4 754.9,1148.9 755.3,1167.2 756.8,1121.2 758.3,1159.7 759.9,1171 762,1148.9 764.1,1176.6 767.8,1148.9 769.8,1166.6 771.3,1121.2 772.8,1157.8 775.7,1148.9 777.9,1173.1 779.4,1148.9 781.1,1167.7 783,1154.7 784.5,1121.2 786,1168.1 788.8,1176.6 790.6,1148.9 795.1,1168.6 797.4,1148.9 798.1,1167.6 799.6,1121.2 801.1,1158.6 801.1,1148.9 803.9,1176.6 807,1148.9 807.1,1159.2 809.5,1093.5 811.9,1165.5 814.6,1176.6 816.1,1121.2 817.6,1163 820.5,1176.6 825.3,1148.9 826.6,1161.2 829,1093.5 831.4,1161.3 834.6,1176.6 837,1093.5 839.4,1158.4 843.1,1165.7 847.7,1176.6 851,1170 854.2,1148.9 856.1,1167.1 857.6,1148.9 859.8,1172.9 863.4,1166.6 864.9,1121.2 866.4,1176.6 869.2,1148.9 872.7,1168.7 874.6,1148.9 877.6,1176.6 881,1148.9 882,1167.5 883.5,1121.2 885,1158.8 886.6,1159.8 888.1,1121.2 889.6,1162.3 891,1176.6 893.5,1148.9 896.4,1176.6 900.3,1148.9 901.9,1176.6 906.8,1176.6 910.9,1152.7 913.3,1065.8 915.7,1167.6 916.9,1176.6 919.3,1093.5 921.7,1159.2 923.6,1171.3 927.8,1148.9 929.8,1176.6 931.6,1148.9 933.1,1172.1 935.1,1148.9 936.3,1176.6 937.8,1121.2 939.3,1155.3 940,1164.1 942.7,1148.9 944.4,1176.6 946.9,1148.9 948.4,1176.6 953.7,1148.9 956.1,1176.6 958.5,1148.9 961.5,1176.6 963,1121.2 963.3,1153 965.7,1093.5 968.1,1161.6 972,1172.9 974.3,1148.9 975.8,1176.6 977.5,1148.9 980.9,1167.4 982.4,1148.9 984,1162.9 988.8,1176.6 991.4,1165.7 992.9,1121.2 994.4,1176.6 995,1148.9 999.3,1176.6 1000.8,1121.2 1002.3,1176.6 1004,1148.9 1012.5,1176.6 1021,1148.9 1022.6,1148.9 1027.7,1176.6 1029.3,1148.9 1034.4,1176.6 1036.7,1148.9 1040.2,1176.6 1042.1,1148.9 1046.9,1176.6 1051.5,1163.2 1053.9,1065.8 1056.3,1176.6 1056.6,1176.6 1058.1,1148.9 1060.4,1176.6 1064.7,1148.9 1065.6,1167.3 1067.1,1121.2 1068.6,1163.5 1069.1,1148.9 1070.7,1176.6 1072.3,1176.6 1073.8,1121.2 1075.3,1176.6 1075.5,1148.9 1078.1,1176.6 1080,1161 1082.4,1065.8 1084.8,1176.6 1085.4,1148.9 1087.1,1176.6 1088,1176.6 1090.4,1093.5 1092.8,1176.6 1092.9,1176.6 1094.4,1148.9 1096.4,1163.6 1100.2,1148.9 1102.3,1176.6 1104.6,1148.9 1106.8,1176.6 1110,1148.9 1112,1176.6 1113.5,1148.9 1115.8,1173 1117.6,1148.9 1118.7,1176.6 1120.2,1121.2 1121.7,1163.1 1123.1,1148.9 1126.8,1172.5 1131.2,1148.9 1134.9,1176.6 1138.6,1156.6 1140.1,1121.2 1141.6,1164.2 1145,1148.9 1150.1,1163.6 1150.5,1158.1 1152,1121.2 1153.5,1167.1 1155.7,1176.6 1159.2,1148.9 1159.8,1176.6 1161.3,1121.2 1162.8,1176.6 1165.3,1148.9 1166.9,1172 1170.1,1148.9 1171.7,1176.6 1175.5,1162.3 1177.9,1093.5 1180.3,1176.6 1181.7,1171.2 1185.4,1148.9 1188,1176.6 1191.4,1148.9 1195.3,1168.5 1200.6,1148.9 1203.7,1165.6 1206.9,1148.9 1208.8,1176.6 1211.9,1148.9 1215.3,1160.4 1217.7,1093.5 1220.1,1176.6 1221.2,1148.9 1225,1164 1226.9,1148.9 1228.8,1176.6 1231.1,1148.9 1231.4,1166.3 1232.9,1121.2 1234.4,1176.6 1234.7,1158.9 1236.2,1121.2 1237.7,1155.8 1242,1164.4 1245,1148.9 1247.2,1176.6 1249.4,1148.9 1250.4,1167 1252.8,1065.8 1255.2,1151.6 1257,1148.9 1258.6,1176.6 1261.6,1148.9 1262.6,1165.4 1264.1,1121.2 1265.6,1150.2 1266.8,1170.7 1268.3,1148.9 1269.2,1160.6 1270.7,1121.2 1272.2,1154 1276.1,1176.6 1277.9,1176.6 1279.4,1121.2 1280.9,1176.6 1282.2,1176.6 1283,1148.9 1289.5,1176.6 1296,1148.9 1296.9,1148.9 1301.7,1170.2 1305.9,1148.9 1307.7,1176.6 1309.2,1121.2 1310.7,1155.5 1312.3,1148.9 1314.8,1168.7 1318,1148.9 1320.3,1176.6 1322,1148.9 1324.3,1176.6 1327.1,1176.6 1328.9,1152.4 1330.4,1121.2 1331.9,1164.6 1332.2,1176.6 1334.2,1148.9 1336.2,1176.6 1338.9,1148.9 1342.2,1162.3 1343.7,1121.2 1345.2,1154.9 1346.6,1176.6 1348.8,1148.9 1353.4,1176.6 1356.2,1148.9 1357.4,1164.2 1358.9,1121.2 1360.4,1154.3 1365.1,1148.9 1368.6,1176.6 1371.3,1148.9 1373,1176.6 1376.4,1148.9 1379.3,1164.7 1380.8,1121.2 1382.3,1166 1382.3,1148.9 1384.1,1176.6 1388.7,1148.9 1390.6,1176.6 1391.9,1151.1 1393.4,1121.2 1394.9,1176.6 1398.7,1170.3 1401.7,1148.9 1406.5,1168.6 1411.8,1148.9 1413.4,1176.6 1416.8,1176.6 1418.2,1151.2 1420.6,1065.8 1423,1176.6 1423.3,1176.6" fill="#0000ff" stroke="#000090" stroke-width="1" stroke-linejoin="miter" stroke-miterlimit="40"/>
<path d="M271.0 1038.1V1176.6" fill="none" stroke="#888" stroke-width="1.4"/>
<path d="M259.1 1038.1H271.5M259.1 1176.6H271.5" fill="none" stroke="#333" stroke-width="1"/>
<text x="252" y="1041.3" class="ax">6</text>
<text x="252" y="1179.8" class="ax">0</text>
<text x="74" y="1113.4" class="lab">GSM2481685</text>
<polygon points="275.5,1330.5 276,1330.4 281.6,1309.2 283.6,1326.2 285,1319.4 286.2,1325.3 287.9,1319.4 291.3,1329.6 296.4,1309.2 299.8,1329.6 303.2,1319.4 305.7,1325.3 308.3,1329.6 311.7,1319.4 314.2,1327.9 316.8,1319.4 319.3,1324.5 321.9,1319.4 324.4,1288 326.1,1319.4 327.8,1299.1 329.5,1309.2 331.2,1309.2 332.9,1319.4 334.6,1288 336.7,1319.4 339.7,1324.5 341.4,1319.4 344.5,1299.1 346.5,1309.2 349.6,1277 351.3,1302.4 353.7,1277 355.4,1277 356.7,1288.9 358.1,1288.9 359.8,1256.7 361.2,1256.7 362.7,1302.4 364.4,1309.2 366.1,1299.1 367.8,1316 370,1299.1 371.2,1326.2 374.1,1309.2 376.3,1319.4 378.8,1322.8 381.4,1319.4 383.9,1288 386.5,1312.6 388.5,1309.2 390.7,1327.9 393.3,1309.2 395,1326.2 396.7,1299.1 399.3,1309.2 401.8,1319.4 404.4,1326.2 406.9,1309.2 409.5,1327.9 414.6,1319.4 418,1326.2 419.8,1330.5 420,1322.8 421.3,1302.8 422.8,1330.5 424.7,1329.2 427.7,1316.7 429.7,1327.6 431.2,1302.8 432.7,1326.6 432.9,1323.6 436,1328.8 437.5,1316.7 439.1,1328.1 440.9,1324.7 442.4,1302.8 443.9,1330.5 446.2,1323.6 449.2,1328.9 450.9,1316.7 452.4,1329.1 452.7,1328.2 454.2,1302.8 455.7,1326.8 457.3,1328.9 460.9,1323.6 463,1330.5 464.7,1323.6 466.4,1329.1 469.7,1316.7 472.5,1327.5 475.4,1316.7 477.8,1329.5 479,1325.3 480.5,1302.8 482,1323.9 483.1,1328.1 484.6,1323.6 487,1328.9 488.8,1323.6 490.4,1327.5 491.9,1316.7 495.1,1330.5 497.6,1316.7 498.8,1326.8 500.3,1302.8 501.8,1326.8 503.3,1330.5 505.9,1329.1 507.7,1316.7 508.6,1330.5 510.1,1302.8 511.6,1330.5 512.2,1323.6 516.1,1330.5 517.6,1323.6 520.4,1329.6 521.8,1327.6 523.3,1302.8 524.8,1326 526.4,1327.6 529.2,1309.7 531.1,1330.5 533.4,1316.7 535.9,1327.6 538.7,1316.7 541,1329.1 544.3,1323.6 548.2,1328.6 550.1,1316.7 551.4,1326 552.9,1302.8 554.4,1327.5 556.2,1309.7 558.4,1330.5 560.1,1316.7 561.8,1330.5 565.5,1309.7 567,1330.5 568.7,1316.7 570.6,1327.2 573.2,1309.7 577.2,1329.5 579.7,1323.6 583.8,1330.5 586.7,1316.7 588.8,1329.5 590.9,1325.1 592.4,1289 593.9,1330.5 594.2,1329.7 596,1316.7 598.4,1329.8 601,1323.6 603.4,1330.5 605.4,1316.7 606.9,1330.5 608.6,1325.2 610.1,1302.8 611.6,1326.8 613.2,1330.5 615.4,1328.4 617.7,1323.6 619.2,1329.1 621.1,1325.7 622.6,1289 624.1,1325 624.9,1330.5 627.2,1316.7 628,1330.5 636.5,1323.6 645,1330.5 645.7,1330.5 647.2,1330.5 648.8,1316.7 650.1,1323.7 651.6,1302.8 653.1,1330.5 653.1,1323.6 655.3,1327.8 656.9,1309.7 660.5,1330.5 663.1,1323.6 663.2,1327.8 664.7,1302.8 666.2,1328.2 669.1,1316.7 670.8,1329.1 673.7,1316.7 677,1330.5 679.1,1316.7 680.9,1327.5 682.4,1323.6 684,1327.8 686.4,1323.6 688.6,1329.6 690.3,1323.6 692,1327.1 692.8,1330.5 694.3,1302.8 695.8,1327.7 697.5,1330.5 700,1316.7 702.3,1330.5 702.7,1328.3 704.2,1302.8 705.7,1324.9 706.2,1329.3 708.4,1323.6 710.1,1328 713.3,1316.7 715.9,1326.1 717.4,1302.8 718.9,1326.3 719.6,1309.7 721.2,1330.5 722.4,1324.2 723.9,1302.8 725.4,1325.9 726.4,1330.5 727.1,1324.2 728.6,1289 730.1,1327 730.4,1316.7 733,1330.5 734.6,1323.6 736.5,1329.6 738.8,1323.6 741.5,1327.1 744.5,1316.7 746.3,1330.5 749.1,1309.7 751.6,1330.5 753.2,1309.7 755.3,1328.3 756.8,1302.8 758.3,1324.8 760,1316.7 763.1,1330.5 765.9,1323.6 767.6,1327.7 770.4,1323.6 771.8,1327.8 773.3,1302.8 774.8,1323.7 775.1,1330.5 776.6,1302.8 778.1,1330.5 778.4,1329.6 780.3,1323.6 784.1,1329.3 786.5,1309.7 788.2,1326.3 789.7,1302.8 791.2,1330.5 791.9,1316.7 793.5,1330.5 795,1289 796.5,1330.5 797.2,1323.6 798.7,1329.6 801.3,1316.7 803.3,1327.2 804.9,1316.7 808.6,1330.5 812.5,1323.6 814.2,1328.2 814.6,1330.5 816.1,1302.8 817.6,1330.5 817.9,1309.7 820.5,1327.4 823.2,1323.6 824.8,1327.2 826.5,1324.8 828,1289 829.5,1325.9 831.7,1327.1 833.7,1323.6 834.3,1330.5 835.8,1302.8 837.3,1327.6 837.8,1316.7 840.7,1330.5 842.7,1323.6 844.3,1330.5 846.9,1323.6 851,1330.5 853.4,1327.6 854.9,1302.8 856.4,1325.1 857.4,1323.6 861.3,1330.5 864.1,1323.6 865.9,1329 867.7,1323.6 868.5,1327.2 870,1289 871.5,1323.6 873.5,1323.6 875.3,1329.5 878.5,1316.7 880.3,1330.5 882,1316.7 884.8,1329.2 887.2,1323.6 890.7,1329.6 893.1,1316.7 894.6,1327.2 898.2,1323.6 898.5,1330.5 900,1295.9 901.5,1330.5 902.9,1324.1 903.3,1309.7 905.4,1330.5 908.2,1316.7 910.1,1328.6 912.2,1309.7 913.7,1329.1 916,1316.7 916.4,1330.5 917.9,1302.8 919.4,1326.7 919.5,1330.5 921.8,1323.6 924,1329.7 925.5,1316.7 926.4,1330.5 927.9,1302.8 929.4,1330.5 930.5,1316.7 932.1,1330.5 934.4,1323.6 935.9,1329.1 938.1,1309.7 939.6,1327.6 941.4,1323.6 945.4,1330.5 948,1323.6 951.5,1330.5 952.9,1330.5 954.4,1302.8 955.9,1325 957.3,1329.3 960.6,1309.7 961.5,1324.6 963,1302.8 964.5,1330.5 968.3,1316.7 969.5,1326.6 971,1302.8 972.5,1324.8 975.6,1316.7 979.4,1327.4 982.1,1323.6 985.5,1327.4 987.3,1323.6 991.3,1327.6 995.1,1323.6 998,1328.2 999.3,1325.9 1000.8,1302.8 1002.3,1324.7 1005.4,1316.7 1008.2,1328.7 1009.8,1316.7 1011.6,1330.5 1015.4,1323.6 1018.6,1327.6 1020.1,1309.7 1023.2,1329 1026,1323.6 1027.7,1327.2 1031.6,1323.6 1034.8,1329.4 1035.8,1326.8 1037.3,1302.8 1038.8,1325.1 1040,1316.7 1042.1,1328.7 1042.4,1330.5 1043.9,1302.8 1045.4,1330.5 1045.7,1323.6 1048.8,1330.5 1051.1,1323.6 1054.9,1329.1 1055.7,1330.5 1057.2,1302.8 1058.7,1325.9 1058.8,1309.7 1060.3,1330.5 1062.3,1295.9 1064.3,1326.1 1065.8,1254.3 1067.3,1327 1069.9,1309.7 1071.4,1319.2 1072.3,1326 1073.8,1302.8 1075.3,1330.5 1076.2,1324.5 1077.9,1295.9 1078.9,1330.5 1080.4,1302.8 1081.9,1327.4 1084.9,1329.2 1085.5,1327.9 1087,1302.8 1088.5,1327.9 1090.3,1323.6 1092,1327.3 1094,1323.6 1096.5,1330.5 1098.6,1323.6 1100.8,1330.5 1102.3,1323.6 1103.9,1330.5 1105.9,1323.6 1107.8,1328.5 1108.8,1325.3 1110.3,1302.8 1111.8,1325.7 1112.2,1329.7 1116.1,1309.7 1117.9,1328.3 1121.9,1323.6 1125,1329.7 1126.5,1316.7 1128.1,1328.3 1128.6,1324 1130.1,1302.8 1131.6,1323.7 1133.9,1329 1136.9,1323.6 1140.1,1330.5 1141.6,1309.7 1144.8,1327.4 1148.2,1323.6 1150.4,1330.5 1152.4,1323.6 1154,1329.7 1155.2,1327.5 1156.7,1302.8 1158.2,1330.5 1159.7,1309.7 1163,1330.5 1166.8,1309.7 1169,1327.2 1171.1,1309.7 1172.8,1330.5 1174.6,1323.6 1176.2,1327.1 1180,1323.6 1181.5,1329.7 1183.8,1309.7 1185.7,1329.6 1189.5,1316.7 1191.1,1328.4 1193.5,1323.6 1195,1324.9 1196.5,1302.8 1198,1327.1 1199.2,1323.6 1200.8,1330.5 1202.3,1323.6 1205.2,1327.2 1206.9,1323.6 1209.2,1328.6 1211.1,1323.6 1214.8,1330.5 1214.9,1325.4 1216.4,1302.8 1217.9,1327.3 1218.3,1323.6 1221.7,1330.5 1224,1316.7 1225.5,1328.9 1227,1323.6 1230.4,1328.4 1232.8,1316.7 1235.8,1329.8 1237.8,1316.7 1238.1,1328.3 1239.6,1302.8 1241.1,1325.6 1241.9,1316.7 1243.8,1327.2 1246,1323.6 1247.7,1328.6 1251.4,1309.7 1252.9,1330.5 1254.6,1325.2 1256.1,1302.8 1257.6,1327 1259.7,1329.7 1262.3,1316.7 1265.5,1329.4 1267.5,1316.7 1269.2,1329 1271.1,1309.7 1273.4,1330.5 1274.5,1330.5 1276,1302.8 1277.5,1324.9 1277.6,1327.5 1280.8,1323.6 1283.9,1330.5 1285.4,1323.6 1288.9,1330.5 1291.7,1323.6 1294.2,1330.5 1298.1,1323.6 1301.5,1328.2 1303.4,1330.5 1305.9,1328.2 1307.7,1330.5 1309.2,1302.8 1310.7,1326.8 1311.6,1329.5 1313.3,1323.6 1316.4,1330.5 1319.6,1316.7 1322.5,1327.8 1324,1316.7 1325.6,1330.5 1327.6,1327.9 1329.1,1302.8 1330.6,1330.5 1332,1309.7 1333.8,1328.2 1336.4,1316.7 1340.4,1329.5 1343.1,1323.6 1347.1,1329.7 1348.7,1316.7 1352.4,1330.5 1354,1323.6 1355.7,1327.2 1358.5,1323.6 1360.8,1327.9 1362.5,1316.7 1364.2,1329.6 1366.8,1316.7 1367.4,1325 1368.9,1302.8 1370.4,1330.5 1371.8,1316.7 1375,1330.5 1378.5,1323.6 1380.6,1329.1 1384.3,1330.5 1385.8,1327.8 1388.2,1316.7 1390.4,1328 1391.9,1323.6 1393.9,1327.1 1395.4,1302.8 1396.9,1324.2 1398.2,1309.7 1399.8,1328 1401.4,1323.6 1404.4,1329.6 1406.1,1323.6 1408.1,1330.5 1408.7,1330.5 1414,1289 1418.6,1192 1421.5,1330.5 1423,1327.7 1423.3,1330.5" fill="#0000ff" stroke="#000090" stroke-width="1" stroke-linejoin="miter" stroke-miterlimit="40"/>
<path d="M271.0 1192V1330.5" fill="none" stroke="#888" stroke-width="1.4"/>
<path d="M259.1 1192H271.5M259.1 1330.5H271.5" fill="none" stroke="#333" stroke-width="1"/>
<text x="252" y="1195.2" class="ax">9</text>
<text x="252" y="1333.7" class="ax">0</text>
<text x="74" y="1267.4" class="lab">GSM2481684</text>
<polygon points="271.6,1484.4 271.6,1438.7 273.2,1438.3 274.5,1475.5 277.3,1484.4 278.4,1463 279.9,1415.2 281.4,1463.9 284.1,1438.3 287.1,1484.4 289.9,1438.3 293.6,1484.4 296.3,1461.4 297.7,1476.9 301.7,1461.4 304.2,1476.1 305.5,1461.4 306,1467.4 307.5,1415.2 309,1484.4 309.9,1461.4 314,1484.4 315.7,1438.3 317,1476.6 317.8,1484.4 319.3,1415.2 320.8,1473.9 321.6,1473 324,1345.9 326.4,1484.4 327.6,1462.6 330,1345.9 332.4,1464 333.4,1477.2 335.8,1392.1 338.2,1484.4 339.1,1415.2 340.6,1469.2 340.9,1484.4 342.4,1415.2 343.9,1471.7 344.7,1449.1 347.4,1484.4 348.9,1415.2 349.8,1462.1 352.2,1392.1 354.6,1467.2 354.8,1451.1 357.3,1472.2 358.8,1415.2 360.3,1484.4 360.6,1467.7 362.1,1415.2 363.6,1467.3 363.9,1467.1 365.4,1415.2 366.9,1473.3 367.3,1435.7 369,1484.4 371.5,1474.5 373.1,1461.4 374.5,1480.4 375.9,1461.4 377.4,1476.5 379.8,1438.3 381.4,1476.3 384.4,1461.4 387.3,1484.4 388.6,1461.4 390.1,1484.4 393.9,1461.4 397.1,1484.4 401.1,1438.3 401.2,1476.5 403.6,1392.1 406,1470.4 407,1484.4 407.7,1467.1 410.1,1369 412.5,1471.6 413.9,1484.4 416.6,1461.4 420.2,1484.4 421.1,1463.5 422.6,1415.2 424.1,1484.4 427.1,1484.4 428.6,1461.4 430.3,1484.4 432.8,1438.3 436.4,1484.4 439.6,1438.3 441.4,1478.7 444.9,1461.4 448.5,1484.4 450,1438.3 451.3,1473.4 452.6,1461.4 454.9,1484.4 457,1438.3 460.7,1475.5 462.5,1484.4 462.6,1474.5 464.1,1415.2 465.6,1472.6 466.1,1484.4 467.2,1470.9 468.7,1415.2 470.2,1466 470.6,1475.3 471.6,1468.4 474,1369 476.4,1461.4 479.4,1461.4 481.4,1484.4 483.8,1461.4 487.6,1484.4 489,1438.3 493.1,1484.4 495,1461.4 498.2,1484.4 500.4,1438.3 504.1,1484.4 508.1,1461.4 509.7,1468.2 512.1,1392.1 514.5,1484.4 515.8,1484.4 518.5,1484.4 520.4,1484.4 522,1461.4 525.7,1475.8 527.9,1461.4 531.4,1473.6 532.9,1461.4 536.9,1484.4 538.7,1438.3 540.2,1484.4 541.7,1415.2 543.2,1484.4 545.7,1480.4 547.4,1461.4 549,1484.4 550.7,1461.4 554.4,1477 555.9,1461.4 558.7,1474 560.1,1461.4 563.4,1484.4 565.6,1438.3 568.9,1482.1 570.9,1461.4 574.7,1484.4 578.1,1461.4 579.5,1484.4 580.9,1438.3 582.2,1478.5 584.6,1461.4 586.9,1481.4 588.5,1461.4 590,1484.4 593.3,1461.4 597.2,1484.4 601.4,1461.4 603,1478.4 605,1438.3 609.1,1480.8 610.8,1461.4 613.9,1480.6 615.9,1461.4 618.2,1484.4 619.7,1461.4 623.3,1481.4 624.6,1461.4 625.7,1469.1 627.2,1415.2 628.7,1484.4 629.9,1480.1 633.4,1461.4 637.2,1477.8 640,1461.4 641.4,1473.6 645.3,1438.3 647.6,1474.8 649.9,1461.4 651.4,1484.4 653.1,1438.3 656.5,1480 660.6,1461.4 661,1476 663.4,1392.1 665.8,1484.4 669.2,1438.3 670.7,1478 672.8,1438.3 675.2,1481.1 677.6,1461.4 680.8,1484.4 683.2,1438.3 684.6,1480.7 685.9,1484.4 688.7,1484.4 690.6,1461.4 694.4,1479.2 694.8,1471.7 696.3,1415.2 697.8,1465.6 698.1,1438.3 701,1484.4 702.7,1438.3 705.1,1484.4 706,1484.4 707.5,1415.2 709,1474.6 711.4,1479.2 714.1,1461.4 716.7,1474.7 719.2,1461.4 722.8,1484.4 724.2,1438.3 727.9,1477.3 729.2,1461.4 730.1,1474.2 732.5,1392.1 734.9,1484.4 735.8,1484.4 737.9,1438.3 739.2,1484.4 742,1461.4 743.7,1484.4 745.6,1461.4 747.4,1477.1 748.7,1461.4 750.5,1484.4 754.4,1461.4 756.3,1484.4 759.4,1461.4 763,1484.4 765.5,1438.3 769.6,1477.4 773.5,1461.4 775.3,1484.4 777.1,1484.4 778.4,1461.8 779.9,1415.2 781.4,1484.4 783.3,1484.4 787.1,1438.3 789.6,1480.2 793.6,1438.3 795.6,1481.9 798.4,1438.3 799.2,1471.7 801.6,1392.1 804,1467.7 806.1,1484.4 810.1,1438.3 811.4,1480.6 813.2,1461.4 814.8,1484.4 816.3,1438.3 819.6,1476.9 821.1,1461.4 823.2,1484.4 825.6,1438.3 826.9,1484.4 830.8,1461.4 834.3,1484.4 835.9,1461.4 837.4,1479.8 840.7,1461.4 842.7,1484.4 844.1,1461.4 847.1,1484.4 850,1438.3 852.7,1476.3 854,1438.3 856.8,1484.4 858.5,1461.4 862.6,1484.4 864.5,1475.8 866.9,1392.1 869.3,1484.4 869.3,1484.4 870.6,1461.4 872.4,1484.4 873.3,1484.4 874.8,1415.2 876.3,1474.9 878.5,1477.7 882.5,1438.3 886.3,1475.3 886.6,1471.9 888.1,1415.2 889.6,1484.4 892.8,1484.4 894.3,1461.4 896,1480.3 897.5,1438.3 901,1484.4 904.1,1461.4 905.5,1477 907.7,1438.3 911.3,1484.4 913.5,1461.4 915.2,1475.9 917.7,1438.3 921.7,1484.4 925.2,1461.4 928,1478.8 930.4,1461.4 932.3,1484.4 935.9,1438.3 939.7,1484.4 941.2,1438.3 944.4,1480.5 946.3,1438.3 950.1,1484.4 952.1,1438.3 953.7,1475.8 956.2,1461.4 959.9,1484.4 962,1461.4 963.5,1479.3 965.7,1438.3 966.2,1468.7 967.7,1415.2 969.2,1471.4 969.8,1438.3 973.7,1484.4 977.4,1484.4 979.1,1484.4 982.4,1438.3 983.9,1474.2 985.7,1461.4 987,1479.7 988.5,1462 990.9,1392.1 993.1,1484.4 995.5,1369 997.9,1484.4 999.7,1484.4 1001.9,1484.4 1002.7,1476.3 1004.2,1415.2 1005.7,1473.8 1006.8,1473.6 1010.3,1438.3 1013,1484.4 1016.3,1438.3 1018.2,1484.4 1020.1,1461.4 1023.1,1474.9 1026.9,1438.3 1029.1,1473.8 1030.4,1461.4 1031.7,1475.3 1033,1438.3 1034.9,1462.6 1037.3,1392.1 1039.7,1473.8 1040.5,1438.3 1042.1,1481.4 1043.4,1461.4 1045.8,1475.1 1049.5,1461.4 1053,1465.3 1054.9,1415.2 1057.4,1429.5 1058.1,1472.4 1060.5,1345.9 1062.9,1469.2 1063.4,1465.6 1065.8,1345.9 1068.2,1475.2 1070.4,1424 1072.1,1438.3 1073.8,1458.4 1075.1,1392.1 1077.3,1409.4 1080.2,1438.3 1081.7,1458.6 1085.4,1415.2 1088,1474.2 1089.7,1438.3 1092.3,1476.2 1094.1,1438.3 1097.5,1484.4 1099,1415.2 1100.5,1472 1101.7,1484.4 1104,1484.4 1107.1,1478.6 1109.4,1438.3 1113.5,1484.4 1115.3,1438.3 1117.8,1484.4 1120.6,1438.3 1124,1462.1 1125.5,1415.2 1127,1465.5 1128.3,1477 1130.2,1461.4 1131.7,1484.4 1134.2,1438.3 1136.9,1484.4 1138.8,1438.3 1142.6,1473.3 1144,1438.3 1145.3,1480.4 1148.6,1461.4 1150.3,1474.8 1151.7,1461.4 1155.1,1484.4 1155.2,1467.7 1156.7,1415.2 1158.2,1484.4 1161,1484.4 1162.4,1461.4 1164.5,1484.4 1165.1,1462.3 1166.6,1415.2 1168.1,1484.4 1170.4,1477 1172.8,1438.3 1175.5,1484.4 1177.9,1461.4 1179.4,1484.4 1180.8,1461.4 1182.6,1474.7 1185.9,1438.3 1189.5,1477 1191.4,1461.4 1193.4,1484.4 1194.8,1461.4 1197.1,1480.3 1198.5,1461.4 1202.6,1477 1203.6,1484.4 1205.1,1415.2 1206.6,1471.9 1207.7,1473.7 1209,1461.4 1211.4,1477.9 1213.2,1461.4 1217.2,1473.5 1218.2,1465.4 1219.7,1415.2 1221.2,1465.5 1221.4,1481.1 1223.7,1438.3 1226.5,1484.4 1227.2,1477.1 1229.6,1392.1 1232,1475.8 1232.4,1484.4 1233.7,1461.4 1235.1,1484.4 1236.4,1461.4 1238,1484.4 1239.3,1461.4 1241.8,1478.2 1242.5,1470.2 1244.9,1345.9 1247.3,1465 1249.2,1484.4 1251.8,1438.3 1253.7,1474 1253.7,1472.9 1256.1,1369 1258.5,1473.6 1261.4,1461.4 1263.4,1473.6 1264.7,1438.3 1266.3,1474.7 1269.9,1467.5 1271.4,1415.2 1272.9,1476.8 1275.2,1438.3 1277.5,1479 1279.5,1461.4 1280.9,1478.5 1281.2,1471.5 1282.7,1415.2 1284.2,1464.9 1284.6,1484.4 1287.8,1461.4 1289.7,1484.4 1290.2,1471.1 1292.6,1369 1295,1484.4 1295.9,1392.1 1298.3,1484.4 1299,1484.4 1309,1461.4 1319,1484.4 1320.6,1461.4 1324.7,1477.5 1327.7,1461.4 1329.5,1477.3 1330.9,1475.9 1332.4,1415.2 1333.9,1475.9 1335.1,1484.4 1336.6,1480 1338.1,1461.4 1341.6,1479.1 1345,1461.4 1347.4,1484.4 1350.7,1461.4 1352.3,1484.4 1355.1,1461.4 1359.2,1484.4 1362.2,1461.4 1364.5,1484.4 1367.6,1438.3 1369.4,1463.4 1370.9,1415.2 1372.4,1469 1372.9,1438.3 1375.5,1473 1376.9,1438.3 1380.5,1473 1383.5,1461.4 1386.1,1484.4 1389.2,1438.3 1392.6,1474.3 1394.8,1438.3 1398.2,1480.1 1399.2,1471.6 1400.7,1415.2 1402.2,1468.5 1404.7,1484.4 1408.1,1438.3 1410.6,1484.4 1412.3,1438.3 1415.3,1484.4 1416.2,1484.4 1418.6,1369 1421,1484.4 1423.3,1484.4" fill="#0000ff" stroke="#000090" stroke-width="1" stroke-linejoin="miter" stroke-miterlimit="40"/>
<path d="M271.0 1345.9V1484.4" fill="none" stroke="#888" stroke-width="1.4"/>
<path d="M259.1 1345.9H271.5M259.1 1484.4H271.5" fill="none" stroke="#333" stroke-width="1"/>
<text x="252" y="1349.1" class="ax">6</text>
<text x="252" y="1487.6" class="ax">0</text>
<text x="74" y="1421.3" class="lab">GSM2481683</text>
<polygon points="271.6,1638.4 271.6,1631.4 275.1,1637.5 280.2,1631.1 282.8,1632.4 287,1637.5 291.3,1624 293.8,1637.5 297.2,1624 300.6,1637.5 302.3,1609.6 304,1627.4 307.4,1609.6 310.8,1629 314.2,1624 316.8,1627.4 318,1601.9 319.7,1624 321,1601.9 322.7,1595.1 324.1,1603.6 325.6,1587.5 327,1600.2 328.2,1595.1 329.9,1624 332.9,1625.7 334.6,1617.2 336.7,1609.6 339.7,1632.4 343.1,1625.7 345.3,1609.6 347.4,1637.5 349.1,1595.1 351.3,1617.2 354.2,1601.9 356.2,1579.9 357.6,1598.5 358.8,1595.1 360.1,1600.2 361.8,1587.5 363,1573.1 364.4,1608.7 366.1,1637.5 367.8,1609.6 370.3,1637.5 372.9,1630.7 377.1,1624 378.8,1637.5 381.4,1624 387.3,1637.5 390.7,1624 393.8,1617.2 396.7,1637.5 400.1,1624 402.7,1637.5 406.1,1624 407.8,1625.7 411.2,1624 413.7,1625.7 417.4,1617.2 420,1630.7 421,1632.8 422.4,1638.4 424.8,1632.8 426.4,1634.7 427.9,1605.1 429.4,1638.4 431.6,1637.7 434.2,1627.3 435.5,1636.7 436.9,1632.8 439.4,1638.4 439.6,1638.4 441.1,1616.2 442.6,1638.4 442.8,1635.5 444.3,1605.1 445.8,1638.4 446.2,1621.8 448.3,1638.4 451.6,1627.3 453.7,1637.3 456.9,1632.8 459.3,1636.1 460.8,1616.2 462.3,1633.4 462.6,1635.9 465,1632.8 465.9,1636.4 467.4,1616.2 468.9,1638.4 469.8,1627.3 472.7,1636.3 474,1632.8 475.5,1637.3 477.6,1627.3 480.8,1636.2 482.1,1621.8 483.8,1636.4 487.3,1621.8 490.2,1635.7 492.6,1621.8 495.2,1636.2 497.3,1627.3 498.8,1635.4 500.3,1616.2 501.8,1635.1 503.4,1638.4 506.3,1627.3 507.5,1635.9 510.6,1621.8 512.1,1637.6 513.3,1632.8 515.6,1637.4 518.8,1638.4 520.3,1636.4 521.9,1632.8 524.8,1637.4 527.9,1621.8 530,1636.9 533.2,1627.3 534.9,1636.2 536.4,1616.2 537.9,1638.4 540,1637.4 541.2,1627.3 544.5,1638.4 546.2,1638.4 547.8,1638.4 550.1,1621.8 551.4,1638.4 552.8,1627.3 555.1,1638.4 556.5,1627.3 558,1636.1 559.5,1616.2 561,1635.7 561.3,1627.3 564.5,1638.4 565.7,1621.8 566.9,1638.4 568.6,1621.8 569.8,1637.2 573.2,1632.8 574.6,1637.3 576.1,1632.8 577.7,1638.4 579.2,1616.2 580.7,1635 580.8,1627.3 583.5,1638.4 586.4,1632.8 588.3,1635.7 591.5,1627.3 594.2,1636.5 596.8,1627.3 597.4,1635.4 598.9,1616.2 600.4,1634.7 600.9,1632.8 603.4,1638.4 604.8,1627.3 606.6,1638.4 609,1632.8 610.7,1638.4 613.1,1627.3 613.9,1635.1 615.4,1616.2 616.9,1636.2 618.6,1636.5 621.9,1632.8 623.2,1636 625.3,1632.8 627.7,1638.4 629,1632.8 630.2,1638.4 632.5,1627.3 634.3,1637.1 635.5,1632.8 638.8,1638.4 642.3,1627.3 643.5,1633 645,1616.2 646.5,1636.3 647,1637.7 648.2,1627.3 650.7,1638.4 652.4,1632.8 653.8,1638.4 656.8,1632.8 658.8,1637 660,1632.8 663.3,1636.6 665.7,1621.8 667.7,1637.5 669.4,1627.3 670.7,1635.7 672.2,1627.3 675.2,1636.8 676.4,1633.7 677.9,1616.2 679.4,1638.4 679.9,1637.7 681.5,1627.3 682.8,1637 683,1635.6 684.5,1605.1 686,1633.9 686.8,1637.4 689.3,1621.8 690.6,1638.4 693.4,1621.8 694.6,1636.8 696.1,1632.8 696.1,1634.7 697.6,1616.2 699.1,1633.7 700,1632.8 703.1,1637.1 706.1,1638.4 708.6,1635.7 711.3,1621.8 713.7,1636.7 716.5,1621.8 718.4,1638.4 720.1,1632.8 721.3,1636.9 722.4,1635 723.9,1616.2 725.4,1638.4 726.7,1638.4 729,1638.4 730.5,1616.2 732,1633.9 732.8,1638.4 734.1,1627.3 735.6,1638.4 737.6,1638.4 741,1637.3 743.1,1627.3 745.5,1636.3 747,1616.2 748.5,1638.4 749.4,1636.8 750.7,1632.8 752.1,1638.4 753.6,1616.2 755.1,1635.7 755.7,1638.4 758.9,1621.8 761.8,1635.6 763.7,1632.8 765.7,1638.4 768.5,1635.5 770,1616.2 771.5,1634 772.2,1632.8 775.1,1634.3 776.6,1605.1 778.1,1634.3 778.4,1633.6 779.9,1616.2 781.4,1634.7 783.9,1637.7 785.2,1627.3 788.7,1638.4 790.5,1627.3 792.2,1637 794.8,1633.1 796.3,1605.1 797.8,1635.4 797.9,1637.1 801,1627.3 801.4,1638.4 802.9,1605.1 804.4,1636 805.7,1636.2 806.1,1632.8 808.7,1636.4 810.2,1627.3 812.9,1637.2 814.6,1638.4 816.1,1616.2 817.6,1636.2 818.3,1632.8 819.6,1636.6 821.1,1632.8 822.4,1636.7 825.6,1627.3 827.7,1636 829.2,1616.2 830.7,1633.3 830.9,1632.8 832.1,1637 835,1627.3 838.1,1638.4 840.6,1632.8 843.8,1636.7 845.1,1621.8 846.4,1636.3 846.8,1633 848.3,1616.2 849.8,1634.3 850.6,1638.4 853.6,1632.8 854.9,1637.4 857.8,1632.8 859.7,1638.4 860.9,1638.4 862.7,1636.7 864.5,1627.3 867.3,1638.4 869.2,1632.8 870,1636.3 871.5,1616.2 873,1638.4 873.9,1632.8 876.1,1636.3 878.2,1632.8 879.9,1638.4 882.6,1627.3 884.6,1636.1 886.4,1627.3 886.6,1635.1 888.1,1616.2 889.6,1638.4 890.1,1632.8 892.6,1636.6 894.7,1621.8 898.1,1636.9 899.4,1632.8 901.3,1636.8 902.5,1632.8 903.9,1635.7 906.3,1632.8 909.4,1638.4 909.8,1638.4 911.3,1616.2 912.8,1635.2 913.6,1638.4 914.9,1632.8 917.7,1637.7 919.1,1621.8 921.8,1635.8 923.4,1632.8 924.7,1637 926.9,1627.3 928.1,1636.4 930.7,1627.3 932.4,1638.4 933.7,1632.8 936.6,1636.3 938.1,1632.8 939.6,1637.6 942.2,1632.8 945.6,1635.7 946.3,1638.4 947.8,1616.2 949.3,1635.1 949.6,1633.4 951.1,1605.1 952.6,1634.6 954.1,1621.8 956.2,1638.4 959.3,1632.8 960.5,1637.4 962.5,1632.8 962.9,1635.3 964.4,1616.2 965.9,1635.1 967,1621.8 968.7,1637.7 970.4,1632.8 972.9,1636.2 974.6,1621.8 976,1638.4 976.1,1638.4 977.6,1616.2 979.1,1633.6 979.8,1635.7 981.9,1627.3 983.3,1636.3 985.5,1627.3 987,1637.4 988.4,1627.3 990.5,1638.4 990.7,1634.4 992.2,1605.1 993.7,1633.3 994.9,1632.8 996.9,1635.7 999.3,1632.8 1001.3,1636.5 1002.8,1605.1 1004.3,1635 1005.7,1638.4 1006.7,1638.4 1008.4,1627.3 1010.3,1636.3 1011.5,1627.3 1013.6,1636.9 1016.4,1621.8 1018.1,1638.4 1019.2,1633.6 1020.7,1616.2 1022.2,1638.4 1025,1627.3 1027,1637.2 1030.2,1632.8 1032.2,1636.7 1035.6,1632.8 1037.1,1638.4 1038.3,1621.8 1041.4,1636.1 1044.5,1610.7 1045.7,1623.9 1047.9,1599.6 1049.1,1634.2 1050.6,1616.2 1052.1,1634.6 1052.7,1599.6 1053.9,1612.8 1055.9,1599.6 1057.2,1611.7 1057.5,1638.4 1059,1588.5 1060.5,1636.3 1060.9,1615.7 1062.2,1599.6 1064.7,1638.4 1066.2,1566.4 1067.7,1633.4 1068.2,1599.6 1069.7,1619.4 1072.4,1599.6 1074.2,1617.3 1075.6,1633.6 1077.1,1616.2 1078.6,1633.6 1080.3,1638.4 1081.7,1627.3 1082.2,1633.8 1083.7,1605.1 1085.2,1638.4 1087,1638.4 1089.4,1627.3 1092.9,1635.7 1094.2,1627.3 1095.5,1638.4 1098.4,1627.3 1098.8,1635.1 1100.3,1616.2 1101.8,1634.2 1102.1,1638.4 1103.6,1605.1 1105.1,1635.7 1105.2,1638.4 1108.3,1632.8 1108.8,1638.4 1110.3,1616.2 1111.8,1638.4 1112.3,1632.8 1113.8,1636.5 1115.4,1632.8 1116.9,1638.4 1120.4,1627.3 1122,1635.8 1124.2,1627.3 1125.6,1637 1128.6,1632.8 1129.9,1637.7 1131.1,1627.3 1134.5,1638.4 1136.8,1632.8 1138.6,1638.4 1140.1,1616.2 1141.6,1638.4 1142.1,1621.8 1143.9,1636.6 1146.3,1621.8 1147.5,1638.4 1149.3,1621.8 1150.7,1636.8 1152.1,1632.8 1153.4,1638.4 1155.2,1632.8 1157.8,1635.9 1159.7,1632.8 1161.8,1638.4 1163.3,1616.2 1164.8,1638.4 1165.5,1636.3 1166.7,1621.8 1168.1,1637.2 1168.4,1638.4 1169.9,1616.2 1171.4,1636.1 1172.7,1636.8 1174.3,1632.8 1177.9,1636.3 1179.1,1632.8 1181.7,1636.6 1181.7,1638.4 1183.2,1616.2 1184.7,1636.5 1185.4,1636.6 1186.8,1632.8 1188.5,1636 1191.3,1627.3 1191.6,1633.9 1193.1,1616.2 1194.6,1636.5 1196.2,1632.8 1197.6,1638.4 1199.1,1621.8 1200.5,1638.4 1202.5,1632.8 1206,1636.1 1208.9,1638.4 1211.4,1637.2 1214.8,1632.8 1217.4,1637.7 1220.7,1632.8 1221.5,1635.1 1223,1616.2 1224.5,1635.6 1224.6,1621.8 1227.8,1638.4 1230.5,1621.8 1232.4,1636.4 1233.7,1632.8 1235.1,1636.9 1236.8,1627.3 1238.1,1636.4 1240.2,1621.8 1241.4,1634.5 1242.9,1616.2 1244.4,1635.1 1245,1632.8 1247.8,1637.1 1250.7,1632.8 1253.8,1637.2 1256.3,1632.8 1258.5,1635.6 1261.6,1632.8 1262.8,1636 1265,1627.3 1266.2,1636.3 1267.9,1635.5 1269.4,1616.2 1270.9,1635.7 1271.1,1636 1273.2,1632.8 1275.2,1636.9 1276.5,1632.8 1278,1638.4 1280.1,1627.3 1281.2,1638.4 1282.7,1605.1 1284.2,1633.4 1284.5,1634.8 1286,1616.2 1287.5,1633.7 1287.7,1627.3 1289.6,1636.5 1292.3,1627.3 1294.6,1637.2 1295.9,1638.4 1298.8,1638.4 1300.5,1621.8 1301.1,1635.7 1302.6,1616.2 1304.1,1638.4 1307.2,1632.8 1308.8,1636.8 1310.5,1632.8 1312.9,1636 1315.3,1632.8 1317.3,1636.9 1319.3,1627.3 1321.6,1636 1323.3,1621.8 1324.9,1637.8 1327.2,1632.8 1329.4,1636.4 1330.9,1633.9 1332.4,1616.2 1333.9,1636.6 1334.9,1637.6 1336.1,1627.3 1339.2,1635.7 1340.6,1621.8 1342.6,1637.1 1345.1,1632.8 1348.2,1638.4 1349.7,1627.3 1351,1638.4 1352.7,1627.3 1356,1638.4 1357.4,1635 1358.9,1616.2 1360.4,1634.9 1361.5,1637.5 1363.1,1632.8 1365.9,1636.1 1367.9,1632.8 1370.7,1636.5 1372,1627.3 1373.6,1635.9 1374,1634.8 1375.5,1616.2 1377,1635.5 1379,1638.4 1381.6,1632.8 1383.2,1638.4 1384.5,1638.4 1387.3,1638.4 1388.8,1616.2 1390.3,1635.3 1391.1,1638.4 1392.5,1636.4 1394.8,1632.8 1398.3,1636.5 1399.6,1627.3 1400.5,1634.8 1402,1616.2 1403.5,1638.4 1404.4,1621.8 1406.4,1637.6 1408.4,1632.8 1409.7,1638.4 1412,1631.4 1415,1624.5 1416.6,1506.8 1418.6,1499.9 1420.6,1504 1421.5,1624.5 1423,1634.2 1423.3,1638.4" fill="#0000ff" stroke="#000090" stroke-width="1" stroke-linejoin="miter" stroke-miterlimit="40"/>
<path d="M271.0 1499.9V1638.4" fill="none" stroke="#888" stroke-width="1.4"/>
<path d="M259.1 1499.9H271.5M259.1 1638.4H271.5" fill="none" stroke="#333" stroke-width="1"/>
<text x="252" y="1503.1" class="ax">17</text>
<text x="252" y="1641.6" class="ax">0</text>
<text x="74" y="1575.2" class="lab">GSM2481682</text>
<polygon points="312.2,1792.3 312.2,1792.3 354.4,1778.5 356.5,1653.8 357.8,1695.4 358.7,1695.4 359.5,1723.1 369.4,1792.3 379.9,1778.5 380.6,1764.6 381.3,1778.5 513.4,1792.3 648.3,1778.5 658,1792.3 668,1778.5 849,1792.3 1014,1778.5 1047.3,1792.3 1081.7,1778.5 1248.2,1792.3 1415.3,1778.5 1419.3,1792.3 1419.3,1792.3" fill="#0000ff" stroke="#000090" stroke-width="1" stroke-linejoin="miter" stroke-miterlimit="40"/>
<path d="M271.0 1653.8V1792.3" fill="none" stroke="#888" stroke-width="1.4"/>
<path d="M259.1 1653.8H271.5M259.1 1792.3H271.5" fill="none" stroke="#333" stroke-width="1"/>
<text x="252" y="1657" class="ax">685</text>
<text x="252" y="1795.5" class="ax">0</text>
<text x="74" y="1729.2" class="lab">GSM2481681</text>
<polygon points="279.9,1946.2 279.9,1946.2 289.7,1807.7 309.5,1946.2 329.2,1807.7 341.1,1946.2 354.2,1807.7 501.6,1946.2 648.3,1807.7 666.7,1946.2 684.5,1807.7 835.8,1946.2 985.6,1807.7 1000.2,1943.5 1015.4,1807.7 1123.5,1946.2 1234.3,1807.7 1244.9,1946.2 1254.8,1807.7 1259.5,1946.2 1262.8,1807.7 1264.1,1885.3 1265.4,1807.7 1282.7,1946.2 1299.2,1807.7 1350.3,1946.2 1400.7,1807.7 1408.7,1946.2 1416.6,1807.7 1420.6,1946.2 1420.6,1946.2" fill="#0000ff" stroke="#000090" stroke-width="1" stroke-linejoin="miter" stroke-miterlimit="40"/>
<path d="M271.0 1807.7V1946.2" fill="none" stroke="#888" stroke-width="1.4"/>
<path d="M259.1 1807.7H271.5M259.1 1946.2H271.5" fill="none" stroke="#333" stroke-width="1"/>
<text x="252" y="1810.9" class="ax">40</text>
<text x="252" y="1949.4" class="ax">0</text>
<text x="74" y="1883.1" class="lab">GSM2481680</text>
<polygon points="277.7,2100.2 277.7,2100.2 285.3,2091.8 307.4,2100.2 329.5,2091.8 339.4,2100.2 348.6,2091.8 349.6,2073.8 351,2073.8 351.6,2091.8 352.8,2100.2 354.2,2072.5 356.4,1961.7 357.6,1996.3 359.3,2055.8 361,2083.5 370.3,2100.2 380.9,2091.8 381.9,2100.2 383.1,2091.8 384.3,2100.2 387.3,2083.5 389,2093.2 393.3,2100.2 398.4,2091.8 400.6,2083.5 401.8,2091.8 407.4,2100.2 413.7,2091.8 469.3,2100.2 526.6,2091.8 539.7,2100.2 556.2,2091.8 569.3,2100.2 582.5,2091.8 589.1,2100.2 593.7,2091.8 622,2100.2 650.3,2091.8 658.2,2100.2 669.3,2091.8 672.6,2100.2 676.6,2091.8 704.2,2100.2 733.8,2091.8 789.7,2100.2 843.7,2091.8 845,2083.5 847.6,2091.8 879.5,2100.2 914.6,2091.8 964.4,2100.2 1014.1,2091.8 1014.6,2086.3 1015.1,2091.8 1075.8,2100.2 1134.8,2091.8 1162,2100.2 1188.5,2091.8 1191.2,2100.2 1194.5,2083.5 1256.1,2100.2 1313.8,2091.8 1358.9,2100.2 1404,2091.8 1407.3,2100.2 1410,2091.8 1413,2100.2 1418,2091.8 1422,2100.2 1422,2100.2" fill="#0000ff" stroke="#000090" stroke-width="1" stroke-linejoin="miter" stroke-miterlimit="40"/>
<path d="M271.0 1961.7V2100.2" fill="none" stroke="#888" stroke-width="1.4"/>
<path d="M259.1 1961.7H271.5M259.1 2100.2H271.5" fill="none" stroke="#333" stroke-width="1"/>
<text x="252" y="1964.9" class="ax">591</text>
<text x="252" y="2103.4" class="ax">0</text>
<text x="74" y="2037" class="lab">GSM2481679</text>
<polygon points="284.5,2254.1 284.5,2254.1 299.6,2115.6 301.6,2222.2 302.9,2254.1 304.9,2184.8 320.7,2254.1 335.8,2184.8 341.1,2254.1 347,2184.8 347.6,2115.6 348.3,2184.8 364.1,2254.1 381.8,2184.8 416,2254.1 449,2184.8 449.6,2115.6 451.6,2184.8 452.9,2254.1 455.5,2184.8 474,2254.1 493.7,2184.8 546.3,2254.1 600.3,2184.8 637.1,2254.1 675.9,2184.8 715.4,2254.1 753.6,2184.8 848.3,2254.1 946.5,2184.8 982.3,2254.1 1020.7,2184.8 1022.7,2254.1 1025.4,2184.8 1053.9,2254.1 1080.4,2184.8 1083.7,2254.1 1087,2184.8 1144.7,2254.1 1203.1,2184.8 1230.9,2254.1 1259.5,2184.8 1277.4,2254.1 1294.6,2184.8 1312.5,2254.1 1327.1,2184.8 1335.7,2254.1 1345.7,2184.8 1365.6,2254.1 1385.5,2184.8 1404,2254.1 1420.6,2184.8 1422,2254.1 1422,2254.1" fill="#0000ff" stroke="#000090" stroke-width="1" stroke-linejoin="miter" stroke-miterlimit="40"/>
<path d="M271.0 2115.6V2254.1" fill="none" stroke="#888" stroke-width="1.4"/>
<path d="M259.1 2115.6H271.5M259.1 2254.1H271.5" fill="none" stroke="#333" stroke-width="1"/>
<text x="252" y="2118.8" class="ax">58</text>
<text x="252" y="2257.3" class="ax">0</text>
<text x="74" y="2190.9" class="lab">GSM2481678</text>
<polygon points="274.5,2408 276.7,2387.2 278.4,2408 279.9,2387.2 281.4,2404.9 283.8,2408 287.3,2401.1 288.2,2408 289.7,2387.2 291.2,2408 292.2,2408 294,2401.1 296.9,2405.5 300,2401.1 301.6,2407.8 302.9,2392.7 304.9,2278 306.8,2360 308.2,2402.6 310.8,2405.9 327.9,2401.3 329.2,2360 331.2,2339 333.2,2379.6 335.8,2369.8 338.4,2392.7 341.1,2376.4 343.7,2402.6 354.2,2392.7 356.2,2285.9 358.2,2360 360.1,2402.6 362.1,2392.7 372,2399.3 378.6,2392.7 380.5,2339 382.5,2402.6 387,2394.2 390.1,2408 390.2,2408 391.7,2387.2 393.2,2402.1 393.5,2401.1 394.8,2405.4 396.4,2401.1 399.3,2408 402.6,2401.1 403.4,2401.9 404.9,2387.2 406.4,2408 408.6,2408 410.9,2394.2 413.1,2406.7 414.6,2394.2 416.6,2408 419.8,2404 421.3,2387.2 422.8,2403.4 423.1,2407.2 424.5,2401.1 425.8,2408 427.5,2394.2 429.9,2406.3 432.3,2401.1 433,2402.5 434.5,2387.2 436,2404.1 436.9,2401.1 438.7,2406.5 439.9,2387.2 442.5,2405.5 444,2387.2 446.8,2404.6 450,2394.2 451.9,2408 454.2,2394.2 457.2,2408 459.7,2394.2 462.2,2405.1 463.8,2401.1 465.9,2403.2 467.4,2387.2 467.8,2404.4 469.3,2366.5 470.8,2402.3 472.6,2404.8 474.5,2408 475.8,2405.3 479.1,2401.1 481.3,2406.4 482.3,2408 483.8,2387.2 485.3,2408 486.5,2408 487.8,2394.2 490.3,2405.7 493.9,2401.1 495.1,2408 495.5,2405.2 497,2387.2 498.5,2408 498.6,2406.3 500.7,2387.2 503.9,2404.7 505.5,2408 507.1,2406 508.5,2401.1 510.3,2404.9 513,2401.1 515.2,2402.7 516.7,2387.2 518.2,2405.3 520.9,2408 523.2,2394.2 525.6,2405.1 528.9,2387.2 531.9,2408 534.4,2394.2 534.9,2404.8 536.4,2387.2 537.9,2408 539.4,2401.1 540.6,2408 544.1,2387.2 544.8,2404.8 546.3,2387.2 547.8,2401.6 548.1,2387.2 550.7,2406.5 552.4,2394.2 554.3,2406.2 557.4,2394.2 559.9,2408 562.4,2394.2 564.6,2402.2 566.1,2387.2 567.6,2408 568.1,2401.1 569.9,2408 571.2,2401.1 573.2,2406.1 576.1,2401.1 577.4,2404.9 580.4,2394.2 583.8,2405.2 584.3,2404.4 585.8,2387.2 587.3,2408 589.2,2408 590.6,2394.2 592.8,2408 594.9,2387.2 597,2407.1 598.3,2387.2 599.6,2408 601.6,2401.1 602.9,2405.1 604,2401.4 605.5,2387.2 607,2402.1 607.3,2401.1 610.4,2408 610.5,2402 612,2366.5 613.5,2408 616,2408 618.8,2401.1 621.9,2406.4 624.1,2401.1 627.4,2406.9 630.6,2401.1 631.9,2404.9 635,2394.2 638.2,2408 639.5,2394.2 642.6,2407.3 643.9,2394.2 645.7,2405.6 648,2401.1 651.1,2405 653.9,2401.1 655.6,2406.8 658.6,2394.2 660.6,2408 663.2,2404.2 664.7,2387.2 666.2,2402.7 669.2,2394.2 671.1,2407.2 673.4,2387.2 675.1,2404.6 676.3,2394.2 676.4,2408 677.9,2387.2 679.4,2408 682.6,2406.5 685.4,2387.2 686.7,2407.3 688.1,2401.1 689.6,2403.5 691.1,2387.2 692.6,2408 692.8,2407.3 694.5,2401.1 696.1,2408 699.5,2401.1 701.6,2408 702.8,2394.2 704.8,2408 707,2401.1 708.3,2406.3 710.8,2394.2 713,2408 715.1,2401.1 715.9,2401.5 717.4,2387.2 718.9,2408 719.7,2406.5 722.4,2387.2 724.3,2404.9 725.9,2387.2 727.2,2405.4 729,2408 730.5,2387.2 732,2408 732.5,2406.8 735.9,2401.1 737.1,2408 739.5,2387.2 742.6,2408 744,2401.1 745.5,2401.3 747,2387.2 748.5,2403.2 750.8,2406.2 752.8,2394.2 755.8,2406.6 758,2401.1 758.6,2408 760.1,2387.2 761.6,2408 761.8,2387.2 764.4,2407.3 765.9,2394.2 767.2,2405.6 769.6,2394.2 770.8,2404.9 771.8,2402.2 773.3,2387.2 774.8,2401.3 775.4,2408 778.2,2387.2 780.4,2405 781.7,2387.2 784.5,2403.9 786,2366.5 787.5,2401.2 788.1,2407.2 790.6,2401.1 792.4,2408 794.5,2401.6 796,2366.5 797.5,2403.9 797.8,2405.9 798.5,2387.2 800,2408 802.3,2394.2 804.8,2405.1 806.1,2401.1 808,2403.7 809.5,2387.2 811,2408 812.2,2387.2 815.6,2408 817,2394.2 819.5,2406 821.1,2405.3 822.6,2387.2 824.1,2408 824.5,2407.2 827.8,2387.2 829.6,2406.6 831,2402.6 832.5,2387.2 834,2401.7 834.4,2405.8 837.2,2394.2 840.6,2408 841.8,2401.1 843,2408 843.7,2347.1 844.5,2408 845.9,2401.1 847.4,2408 849.9,2401.1 851.8,2405.6 853.1,2401.1 855.3,2405.8 858.4,2401.1 861.8,2408 865.2,2387.2 866.6,2394.1 868.6,2380.3 869.9,2395.9 873.2,2394.2 873.3,2404.1 874.7,2408 876.2,2366.5 877.7,2402 879.5,2401.1 881.3,2405.8 882.8,2366.5 884.3,2405.9 884.8,2387.2 886.3,2402 888.3,2394.2 891,2403.4 893,2401.1 894.2,2408 895.9,2387.2 898.9,2404.7 900.4,2401.1 902.1,2404.6 904,2401.1 906.1,2406.9 907.6,2394.2 909.4,2408 909.8,2402.8 911.3,2387.2 912.8,2402.7 914,2404.8 915.3,2401.1 917.2,2408 918.6,2408 921.4,2408 923.7,2401.1 925.9,2406.1 929.1,2408 931.3,2406 934.2,2387.2 936.1,2404.9 938.4,2401.1 939.7,2404.2 941.2,2387.2 942.7,2401.8 943.1,2389.9 945.9,2394.2 947.3,2408 948.7,2394.2 949.6,2408 951.1,2387.2 952.6,2408 952.9,2394.2 956,2399 958.3,2380.3 959.8,2395.8 961.3,2387.2 964.7,2402.5 965.9,2387.2 966.2,2408 967.7,2366.5 969.2,2408 969.4,2387.2 971.7,2392.9 975.2,2401.1 976.6,2405.6 978,2387.2 979.4,2408 980.9,2387.2 982.4,2403.3 985.5,2406 988.3,2394.2 989.6,2408 991.3,2401.1 992.7,2402.5 994.2,2387.2 994.7,2408 996.2,2366.5 997.7,2408 999.1,2401.1 1002.4,2408 1004.3,2401.1 1005.9,2405.4 1006,2408 1007.5,2387.2 1009,2402.2 1010.2,2390 1012,2394.2 1014.7,2408 1016,2394.2 1017.7,2408 1020,2401.1 1022.8,2405.1 1024.1,2401.1 1027.6,2405.2 1030.6,2394.2 1033.9,2408 1035.1,2401.1 1035.8,2404.1 1037.3,2387.2 1038.8,2401.5 1039.2,2394.2 1041.9,2408 1043.3,2394.2 1045.3,2408 1047.9,2394.2 1051.3,2405.1 1052.8,2387.2 1055.7,2404.3 1057.2,2387.2 1058.7,2405.6 1060.9,2400.5 1064.1,2401.1 1065.4,2406.9 1067.1,2387.2 1069,2404.6 1070.5,2387.2 1072,2408 1073.8,2396.4 1076.3,2408 1077.8,2366.5 1079.3,2405.7 1079.7,2400.7 1082.4,2401.1 1085.1,2408 1087.9,2401.1 1088.9,2403.3 1090.4,2387.2 1091.9,2404.8 1094.5,2399.5 1096.1,2387.2 1098.3,2405.2 1100.6,2394.2 1102,2408 1105.1,2394.2 1108.6,2405.4 1108.8,2402.8 1110.3,2387.2 1111.8,2408 1112,2408 1113.9,2401.1 1115.2,2407.3 1116.8,2394.2 1118.2,2404.9 1120.6,2401.1 1124,2405.4 1125.4,2387.2 1128.4,2406.5 1128.6,2404.7 1130.1,2387.2 1131.6,2408 1133.5,2408 1134.7,2394.2 1136.3,2408 1138.2,2394.2 1140.8,2405.8 1142.8,2387.2 1144.8,2408 1147.3,2401.1 1148.6,2405 1150.5,2394.2 1153.1,2405.3 1154.8,2394.2 1155.2,2403.1 1156.7,2387.2 1158.2,2408 1160.4,2394.2 1162.9,2407.2 1165.9,2401.1 1167.7,2408 1168.4,2408 1169.9,2387.2 1171.4,2401.8 1172.2,2405.4 1175,2394.2 1178.2,2408 1179.7,2394.2 1180.9,2405.6 1183.5,2401.1 1184.7,2405.9 1187.3,2387.2 1188.3,2408 1189.8,2387.2 1191.3,2408 1192.5,2387.2 1193.9,2408 1195.1,2394.2 1196.5,2406.8 1198.7,2387.2 1200.2,2408 1201.6,2401.1 1203.5,2404.8 1205.1,2401.1 1207.2,2408 1209.2,2387.2 1211.3,2406.4 1213.2,2401.1 1214.9,2408 1216.4,2387.2 1217.9,2405.6 1220.2,2408 1221.7,2394.2 1223,2408 1226.4,2387.2 1228.1,2402.8 1228.1,2403.7 1229.4,2401.9 1230.9,2366.5 1232.4,2405.3 1232.5,2387.2 1234.6,2397.8 1236.4,2380.3 1239.1,2394.9 1240.6,2401.1 1242.1,2406 1242.7,2401.2 1244.2,2366.5 1245.7,2401.4 1247.1,2406.2 1248,2403.3 1249.5,2387.2 1251,2401.5 1252.5,2406.8 1254.6,2402.1 1256.1,2366.5 1257.6,2405.8 1258,2408 1259.5,2387.2 1261,2403.9 1262.6,2394.2 1264.5,2403.7 1266.2,2401.1 1267.9,2408 1269.4,2387.2 1270.9,2404.7 1272.5,2401.1 1274.1,2408 1277.1,2387.2 1278.8,2404.7 1280.7,2401.1 1283.2,2405.4 1284.7,2366.5 1286.2,2402.4 1286.9,2380.3 1290.4,2406.1 1292,2401.1 1293.4,2408 1295,2408 1296.6,2269.5 1297.3,2404.6 1298.2,2408 1299.8,2394.2 1302,2405.4 1303.5,2394.2 1305.1,2408 1307.7,2405.9 1309.2,2387.2 1310.7,2408 1311.3,2394.2 1313.4,2405.5 1314.6,2387.2 1317.9,2408 1320.1,2394.2 1321,2404.9 1322.5,2387.2 1324,2405.5 1324.8,2401.1 1326.6,2408 1329.1,2401.1 1330.3,2408 1333.3,2394.2 1335.9,2405.5 1337.2,2387.2 1337.5,2402.7 1339,2387.2 1340.5,2403.5 1342.8,2401.1 1344.2,2405.9 1347.7,2394.2 1350.5,2408 1352.1,2394.2 1353.5,2406.1 1354.8,2394.2 1356.4,2404.6 1358.1,2401.1 1359.5,2404.7 1360.9,2394.2 1362.2,2408 1364.2,2401.1 1366.1,2408 1367.4,2408 1368.9,2387.2 1370.4,2404.1 1373.1,2394.2 1374,2402.3 1375.5,2387.2 1377,2408 1378.3,2401.1 1380.6,2408 1383.3,2394.2 1385.4,2408 1387.4,2401.1 1388.7,2405.7 1390.4,2394.2 1391.9,2408 1393.8,2394.2 1395,2408 1397,2394.2 1399.1,2408 1400.5,2408 1402,2387.2 1403.5,2405.1 1405,2401.1 1406.6,2406.7 1407.8,2401.1 1409.8,2408 1413.1,2387.2 1413.8,2402.8 1415.3,2387.2 1416.8,2402.3 1419.4,2408 1422.2,2401.1 1423.3,2408" fill="#0000ff" stroke="#000090" stroke-width="1" stroke-linejoin="miter" stroke-miterlimit="40"/>
<path d="M271.0 2269.5V2408" fill="none" stroke="#888" stroke-width="1.4"/>
<path d="M259.1 2269.5H271.5M259.1 2408H271.5" fill="none" stroke="#333" stroke-width="1"/>
<text x="252" y="2272.7" class="ax">13</text>
<text x="252" y="2411.2" class="ax">0</text>
<text x="74" y="2344.9" class="lab">GSM2481677</text>
<polygon points="287.3,2562 287.3,2562 304,2516.2 304.5,2423.5 305.7,2516.2 308.4,2562 311.3,2516.2 315.4,2562 318.5,2516.2 325.3,2562 332.1,2516.2 333.3,2516.2 368.3,2562 403.4,2516.2 443,2562 485.1,2516.2 914.6,2562 1347,2516.2 1348.3,2423.5 1350.3,2469.2 1386.8,2562 1386.8,2562" fill="#0000ff" stroke="#000090" stroke-width="1" stroke-linejoin="miter" stroke-miterlimit="40"/>
<path d="M271.0 2423.5V2562" fill="none" stroke="#888" stroke-width="1.4"/>
<path d="M259.1 2423.5H271.5M259.1 2562H271.5" fill="none" stroke="#333" stroke-width="1"/>
<text x="252" y="2426.7" class="ax">522</text>
<text x="252" y="2565.2" class="ax">0</text>
<text x="74" y="2498.8" class="lab">GSM2481676</text>
<polygon points="274.5,2715.9 279.2,2681.3 281.3,2700.5 286.5,2681.3 290.3,2715.9 293.6,2681.3 298.1,2699.1 302.2,2681.3 306.7,2682.2 308.2,2646.6 309.7,2715.9 309.9,2689.9 311.4,2646.6 312.9,2715.9 314.6,2715.9 316.1,2646.6 317.6,2703.7 318.4,2646.6 319.8,2702.7 321.3,2646.6 322.8,2701.8 326.2,2646.6 326.4,2715.9 327.9,2646.6 329.4,2715.9 329.7,2715.9 334.1,2681.3 336.8,2700.8 340.6,2681.3 342.8,2687.6 344.3,2646.6 345.8,2693.2 349.2,2681.3 353.1,2715.9 355.6,2646.6 356,2697.7 357.5,2646.6 359,2699.7 359.2,2691.7 361.6,2681.3 365,2715.9 365.9,2702.2 367.4,2646.6 368.9,2698.4 369.1,2715.9 374.1,2646.6 375.7,2692.2 377.2,2646.6 378.7,2700.7 378.8,2715.9 383.6,2695.5 385.1,2646.6 386.6,2702.4 388.2,2715.9 393.2,2681.3 393.5,2692.1 395,2646.6 396.5,2684.3 398.7,2681.3 402.4,2701.2 406.8,2681.3 410,2715.9 410.4,2684.2 412.8,2612 415.2,2689.8 417.9,2708.2 422.7,2681.3 424.7,2711.6 426.9,2681.3 430.1,2705.6 432.1,2681.3 436.3,2715.9 441.3,2681.3 443.3,2699.4 446.7,2681.3 450.3,2715.9 454.8,2646.6 459.3,2675.1 461.4,2681.3 463.4,2691 463.9,2686.8 465.4,2646.6 466.9,2696.9 469.2,2689.8 470.7,2646.6 472.2,2703.4 474.5,2681.3 478,2707.4 480,2715.9 483.5,2709.8 487.2,2681.3 490.8,2715.9 493.4,2681.3 496.9,2715.9 499.5,2681.3 502.3,2715.9 507.3,2681.3 509.9,2698.4 511.4,2646.6 512.9,2705.2 514.8,2715.9 517.8,2681.3 521.4,2715.9 525.1,2681.3 529.5,2698.7 534.1,2681.3 536.9,2701.1 538.4,2646.6 539.9,2681.6 540.1,2681.3 543,2681.3 553,2715.9 563,2681.3 565.2,2681.3 568.3,2715.9 571.8,2681.3 575.6,2715.9 578.7,2681.3 581.9,2699.8 585.1,2681.3 586,2681.3 596,2715.9 606,2681.3 606.6,2681.3 608.9,2704.8 613.5,2681.3 615.7,2715.9 617.8,2681.3 622.3,2715.9 625.5,2681.3 627.9,2715.9 629.9,2681.3 633.3,2715.9 638.3,2681.3 641,2715.9 642,2681.3 648.5,2715.9 655,2681.3 657.4,2681.3 659.4,2695.8 659.9,2685.3 661.4,2646.6 661.9,2698.2 663.4,2646.6 664.9,2715.9 666.4,2715.9 668.4,2681.3 670.4,2715.9 674.6,2681.3 676.7,2715.9 678.8,2681.3 680.8,2715.9 685.2,2681.3 689.4,2715.9 693.4,2681.3 696.2,2701.7 698.3,2681.3 700.7,2715.9 702.8,2681.3 705.6,2715.9 709.5,2681.3 711.7,2699 715.3,2646.6 715.9,2688.8 717.4,2646.6 718.9,2695.4 719.1,2665.7 721.6,2681.3 722.4,2715.9 723.9,2646.6 725.4,2715.9 728.1,2681.3 730.7,2715.9 734.4,2646.6 736.9,2698.4 738.4,2646.6 739.9,2715.9 741.9,2646.6 744.1,2715.9 746.5,2681.3 748.5,2715.9 750.1,2685.4 751.6,2646.6 753.1,2704.9 754.3,2715.9 757.9,2681.3 760.9,2698.5 763.2,2690.6 764.7,2646.6 766.2,2694.2 766.6,2687.3 769.2,2681.3 771.8,2681.7 773.3,2646.6 774.8,2715.9 775.1,2702.6 776.6,2646.6 778.1,2686.4 778.5,2715.9 781.8,2681.3 786.7,2712.2 791.9,2681.3 794.8,2707.9 797,2681.3 800,2715.9 804.5,2681.3 807,2715.9 809.6,2681.3 812.6,2715.9 814.1,2646.6 814.6,2691.6 816.1,2646.6 817.6,2686.4 817.8,2646.6 821.2,2715.9 823.6,2681.3 825.9,2704.8 829.2,2681.3 831.5,2703.2 834.4,2681.3 837.4,2704.4 839.8,2681.3 842.4,2703.8 846.3,2681.3 851.1,2708.5 853.3,2681.3 853.4,2699.7 854.9,2646.6 856.4,2684.7 857.5,2715.9 861.3,2681.3 865.8,2708.2 868.6,2681.3 873.2,2715.9 875.7,2681.3 878.1,2698.9 881.9,2681.3 884.9,2715.9 885.3,2715.9 886.8,2646.6 888.3,2702.6 889,2681.3 893.1,2715.9 897.1,2681.3 899.3,2704.5 904.2,2681.3 907.4,2709.8 911.4,2681.3 914.1,2702.5 918.7,2681.3 920.8,2707.5 924.8,2681.3 926.8,2715.9 930.8,2681.3 935.4,2705.4 939.2,2681.3 942.7,2715.9 947.3,2681.3 947.6,2715.9 949.1,2646.6 950.6,2700.1 951.2,2715.9 951.6,2691.8 953.1,2646.6 954.6,2715.9 955.2,2646.6 957.3,2693 959.4,2681.3 961.9,2715.9 965.2,2681.3 967.3,2708.7 971.7,2681.3 974.2,2715.9 976.1,2687.1 977.6,2646.6 979.1,2694.6 981.8,2698 983.6,2692.2 986,2612 988.4,2689.1 989.5,2703.9 991.5,2646.6 996.6,2715.9 999.3,2704.4 1000.8,2646.6 1002.3,2715.9 1002.9,2715.9 1007.5,2681.3 1011.5,2701.6 1013.7,2681.3 1017.1,2715.9 1019.6,2681.3 1022.9,2712.2 1026.4,2681.3 1029.4,2701 1033.7,2646.6 1035.8,2700.9 1037.3,2646.6 1038.6,2696.9 1041,2612 1043.4,2685.9 1045.7,2690.4 1050.7,2681.3 1052.9,2706.3 1056.8,2646.6 1058.1,2715.9 1060.1,2700 1062.5,2577.4 1064.9,2693.1 1067.3,2681.3 1071,2715.9 1073.7,2681.3 1077.1,2715.9 1079.4,2681.3 1084.6,2715.9 1088.4,2681.3 1091.4,2700.6 1094.6,2681.3 1098.2,2702.2 1103.4,2681.3 1106,2715.9 1108.7,2681.3 1111.3,2710.1 1113.6,2681.3 1116.5,2715.9 1118.9,2681.3 1122.6,2708.1 1127,2646.6 1128.6,2685.9 1130.1,2646.6 1131.6,2702.9 1133.2,2646.6 1136.7,2703.1 1139.2,2646.6 1141.4,2715.9 1143.7,2681.3 1147.5,2696.7 1150.9,2646.6 1153.1,2686.8 1155.6,2681.3 1156.5,2683.6 1158,2646.6 1159.5,2691.2 1161.8,2705.1 1163.3,2646.6 1164.8,2701.9 1166.4,2687.3 1167.9,2646.6 1169.4,2715.9 1171.4,2681.3 1173.7,2712.3 1176.3,2681.3 1179.9,2715.9 1183.6,2681.3 1185.6,2715.9 1188.3,2699.2 1189.8,2646.6 1191.3,2691.8 1191.6,2715.9 1193.1,2646.6 1194.6,2705.5 1197.4,2683.5 1199.8,2612 1202.2,2715.9 1203.6,2681.7 1205.1,2646.6 1206.6,2701.3 1207.6,2701.9 1211.7,2681.3 1215.7,2703.2 1217.8,2681.3 1218.2,2701.2 1219.7,2646.6 1221.2,2682.1 1223.9,2681.3 1226.5,2715.9 1228.8,2715.9 1233.6,2715.9 1236.7,2681.3 1238.1,2715.9 1239.6,2646.6 1241.1,2689.7 1243.3,2681.3 1247.9,2715.9 1251.2,2646.6 1252.7,2688.3 1254.2,2646.6 1255.7,2715.9 1258.3,2646.6 1262.2,2715.9 1265.4,2646.6 1270.4,2715.9 1275.1,2681.3 1278,2715.9 1281,2646.6 1283,2715.9 1285.7,2646.6 1287.7,2715.9 1289.1,2715.9 1290.6,2646.6 1292.1,2692 1292.4,2681.3 1294.4,2697.8 1295.9,2646.6 1297.4,2685 1297.5,2681.3 1299.9,2715.9 1303,2715.9 1305,2715.9 1311,2681.3 1317,2715.9 1317,2715.9 1323.5,2681.3 1330,2715.9 1330,2715.9 1336.5,2681.3 1343,2715.9 1343,2715.9 1349.5,2681.3 1356,2715.9 1356,2715.9 1363,2681.3 1370,2715.9 1370,2715.9 1376.5,2681.3 1383,2715.9 1383,2715.9 1390,2681.3 1397,2715.9 1397,2715.9 1403.5,2681.3 1410,2715.9 1410,2715.9 1416,2681.3 1422,2715.9 1423.3,2715.9" fill="#0000ff" stroke="#000090" stroke-width="1" stroke-linejoin="miter" stroke-miterlimit="40"/>
<path d="M271.0 2577.4V2715.9" fill="none" stroke="#888" stroke-width="1.4"/>
<path d="M259.1 2577.4H271.5M259.1 2715.9H271.5" fill="none" stroke="#333" stroke-width="1"/>
<text x="252" y="2580.6" class="ax">10</text>
<text x="252" y="2719.1" class="ax">0</text>
<text x="74" y="2652.7" class="lab">GSM2481675</text>
<polygon points="690.1,2869.8 690.1,2869.8 1109.8,2731.3 1121.6,2869.8 1134.3,2731.3 1160.3,2869.8 1185.5,2731.3 1304.8,2869.8 1304.8,2869.8" fill="#0000ff" stroke="#000090" stroke-width="1" stroke-linejoin="miter" stroke-miterlimit="40"/>
<path d="M271.0 2731.3V2869.8" fill="none" stroke="#888" stroke-width="1.4"/>
<path d="M259.1 2731.3H271.5M259.1 2869.8H271.5" fill="none" stroke="#333" stroke-width="1"/>
<text x="252" y="2734.5" class="ax">120</text>
<text x="252" y="2873" class="ax">0</text>
<text x="74" y="2806.7" class="lab">GSM2481674</text>
<polygon points="274.5,3023.7 279.2,3008.5 281.7,3023.7 283.2,2993.3 284.7,3015.2 286,3016.4 291,3008.5 291.5,3009.5 293,2993.3 294.5,3016.9 296.1,3013.8 297.6,2978 299.1,3017.1 300.1,3013.8 301.6,2993.3 303.1,3010.1 304.7,3009 306.2,2978 307.7,3010.3 307.8,3014.3 310.5,2993.3 311.3,3011.7 312.8,2993.3 314.3,3009.6 316.5,3016.3 318,2978 319.5,3011.9 322.4,3020.6 324.5,3011.1 326,2962.8 327.5,3014.4 327.7,3011.7 329.2,2993.3 330.7,3023.7 332.6,3023.7 334.3,3015.4 335.8,2993.3 337.3,3014.1 337.7,3018.5 340.5,3008.5 340.9,3010.3 342.4,2993.3 343.9,3008.8 345.4,3020.5 348.8,3015.6 350.3,2978 351.8,3023.7 353.8,3023.7 356.2,2886.6 358.6,3012.2 360.5,2993.3 360.6,3023.7 362.1,2993.3 363.6,3012.5 366.3,3023.7 367.2,3014.3 368.7,2993.3 370.2,3023.7 373.1,3008.5 379,3018.1 380.5,2978 382,3015.2 383.6,2993.3 386.9,3016.8 388.4,2993.3 389.9,3014.8 393.2,2993.3 395.5,3010.6 397,2978 398.5,3011.4 398.8,2978 403.3,3023.7 406.7,3009.5 408.2,2993.3 409.7,3009.1 411.1,3018.1 413.2,3010.7 414.7,2993.3 416.2,3010.9 418.2,3018 418.5,3016.7 420,2978 421.5,3018.5 426.4,3013.6 427.9,2993.3 429.4,3023.7 430.9,3008.5 434.5,3023.7 438.2,3023.7 439.7,2993.3 441.2,3017.2 446.9,3023.7 449.8,3008.5 451.4,3016.3 452.9,2993.3 454.4,3015.4 455,3023.7 460.1,3008.5 462.6,3023.7 464.1,2993.3 465.6,3015.9 469.3,3023.7 472,3023.7 474.4,3010.2 475.9,2993.3 477.4,3017.6 477.4,3008.5 482.4,3023.7 489.3,3008.5 492.4,3023.7 495.2,2993.3 498.8,3023.7 500.3,2993.3 501.8,3012.9 502.1,3015.9 503.6,2993.3 505.1,3023.7 508,3008.5 511.4,3019.7 514.3,3008.5 517.2,3015 518.7,2993.3 520.2,3013.9 521.4,3023.7 521.8,3017.1 523.3,2993.3 524.8,3014.9 525.5,3023.7 530.2,3023.7 537.8,3023.7 543.3,2993.3 548,3023.7 555.1,3008.5 558,3014.6 559.5,2993.3 561,3016.8 562.2,3008.5 568.2,3023.7 572.8,3008.5 577.7,3013.8 579.2,2993.3 580.7,3013.3 581.7,3008.5 584.2,3023.7 589,3008.5 593.5,3023.7 597.4,3010.3 598.9,2993.3 600.4,3010.3 604,3018.6 605.5,2993.3 607,3013.8 609.3,3023.7 610.8,2993.3 612.3,3014.7 613,3008.5 616.7,3023.7 623.6,3008.5 623.8,3018.6 625.3,2993.3 626.8,3023.7 629.9,3023.7 632.4,3008.5 637.5,3023.7 640.2,3008.5 642.2,3011.4 643.7,2993.3 645.2,3023.7 647.4,3023.7 648.8,3023.7 650.3,2993.3 651.8,3014.7 654.1,3008.5 656.7,3014.8 658.2,2993.3 659.7,3023.7 662.4,3008.5 668.6,3023.7 672.7,3008.5 676.4,3013.8 677.9,2993.3 679.4,3018.6 680.1,3008.5 684.2,3023.7 688.7,3008.5 692.6,3018.8 694.8,3023.7 696.3,2993.3 697.8,3023.7 698.8,3008.5 702.7,3010.3 704.2,2993.3 705.7,3015.2 708.3,3008.5 714.6,3015.2 716.1,2978 717.6,3016.9 718,3008.5 719.2,3012.2 720.7,2978 722.2,3013.1 724.6,3023.7 725.7,3010.4 727.2,2993.3 728.7,3012.4 729.3,3008.5 733,3018.6 738.7,3008.5 744.4,3023.7 745.5,3015.6 747,2993.3 748.5,3011.3 749.9,3023.7 752.5,3008.5 758.6,3023.7 760.6,3014.4 762.1,2993.3 763.6,3023.7 766.3,3023.7 769.8,3008.5 772.8,3023.7 775.4,3008.5 779.7,3023.7 781.7,3015.1 783.2,2993.3 784.7,3009 787.2,3008.5 790.5,3019.5 794.6,2978 794.8,3023.7 796.3,2962.8 797.8,3023.7 799.9,3008.5 800.1,3014.4 801.6,2978 803.1,3011 803.4,3010.3 804.9,2978 806.4,3014.5 806.5,3008.5 813.8,3023.7 819.3,3008.5 823.1,3023.7 827.7,3023.7 829.2,2993.3 830.7,3010.2 830.9,3023.7 833.7,3008.5 837.9,3023.7 840.5,3008.5 843,3023.7 847.9,3008.5 852.8,3023.7 855.9,2993.3 860.6,3023.7 863.2,3008.5 866.1,3023.7 868.8,3008.5 873.1,3023.7 877.6,3008.5 878,3018 879.5,2993.3 881,3023.7 882.9,3023.7 889.3,3008.5 889.9,3008.6 891.4,2993.3 892.9,3013.1 894.9,3019.2 901.3,3008.5 906.7,3023.7 909.9,3008.5 910.5,3008.7 912,2993.3 913.5,3012.8 917,3023.7 922.2,3008.5 925.2,3023.7 929,2993.3 933,3018.9 940.6,3008.5 944.5,3023.7 948,3023.7 949.6,3012.7 951.1,2993.3 952.6,3011.5 953.2,3023.7 954.9,3017.5 956.4,2993.3 957.9,3010.5 962.3,3017.2 969.6,3008.5 975.8,3023.7 979,3008.5 982.4,3023.7 985.9,3008.5 992.4,3023.7 996.6,2993.3 1003.5,3023.7 1009.8,3008.5 1013.2,3023.7 1020,3008.5 1026.5,3016.2 1029.1,2993.3 1032.5,3013 1034,2993.3 1035.5,3010 1037.6,3008.5 1042.8,3017.3 1050.1,3008.5 1056,3023.7 1058.7,3008.5 1065.4,3023.7 1069.6,3008.5 1073.6,3023.7 1076.3,3008.9 1077.8,2978 1079.3,3015.8 1081,3008.5 1082.2,3014.6 1083.7,2993.3 1085.2,3011.6 1086,3023.7 1092.5,3023.7 1099.5,3008.5 1102.1,3023.7 1104.7,3008.5 1109,3023.7 1113.8,3008.5 1120.7,3019.2 1122.2,2993.3 1123.7,3014.1 1126.6,3008.5 1131,3023.7 1136.8,3008.5 1139.6,3023.7 1145,2993.3 1148.7,3023.7 1153.9,3008.5 1157.9,3023.7 1158.5,3012.3 1160,2993.3 1161.5,3016.5 1163.8,3011.7 1165.3,2993.3 1166.8,3013.7 1168.9,3023.7 1169.8,3012.5 1171.3,2993.3 1172.8,3013.5 1178.8,3008.5 1182.6,3023.7 1185.3,3008.5 1187,3014.9 1188.5,2993.3 1190,3017.4 1190.3,3013.8 1191.8,2978 1193.3,3019.2 1199.3,3008.5 1202,3023.7 1208.6,2993.3 1211.2,3023.7 1215,2993.3 1217.6,3023.7 1222.4,3008.5 1225.3,3023.7 1230.7,2993.3 1233.4,3023.7 1234.9,2993.3 1236.4,3017.2 1237.8,3023.7 1244.6,3008.5 1246,3012.7 1247.5,2993.3 1249,3011.8 1254,2993.3 1257,3023.7 1261.4,3008.5 1265.8,3023.7 1268.8,2993.3 1275.8,3023.7 1280.2,3008.5 1282.7,3023.7 1285.8,3023.7 1287.3,2993.3 1288.8,3009.3 1289.1,3008.5 1289.1,3012.3 1290.6,2993.3 1292.1,3023.7 1292.4,3018.8 1295.7,3008.5 1295.8,3023.7 1297.3,2993.3 1298.8,3015.1 1299,3016.7 1302.3,2993.3 1308.4,3023.7 1312.8,2993.3 1315.9,3023.7 1319.4,3008.5 1322,3023.7 1324.5,3008.5 1328.4,3020.9 1335.4,3008.5 1337.5,3023.7 1339,2993.3 1340.5,3011.7 1345.5,3023.7 1347,2993.3 1348.5,3016.5 1354.2,3008.5 1355.5,3015.8 1357,2978 1358.5,3013.6 1359.4,3008.5 1360.9,2993.3 1362.4,3010.1 1366.6,3023.7 1369.2,3008.5 1374.4,3023.7 1381.4,3023.7 1385.1,3023.7 1392.2,3008.5 1397.7,3023.7 1402.3,3008.5 1407,3023.7 1411,3023.7 1414,3023.7 1418.5,3014.4 1420,2978 1421.5,3023.7 1423.3,3023.7" fill="#0000ff" stroke="#000090" stroke-width="1" stroke-linejoin="miter" stroke-miterlimit="40"/>
<path d="M271.0 2885.2V3023.7" fill="none" stroke="#888" stroke-width="1.4"/>
<path d="M259.1 2885.2H271.5M259.1 3023.7H271.5" fill="none" stroke="#333" stroke-width="1"/>
<text x="252" y="2888.4" class="ax">25</text>
<text x="252" y="3026.9" class="ax">0</text>
<text x="74" y="2960.6" class="lab">GSM2481673</text>
<polygon points="275.3,3177.7 275.3,3177.7 279.9,3108.4 283.2,3177.7 286.4,3108.4 324.6,3177.7 363.4,3108.4 365.4,3136.1 366.7,3108.4 385.1,3177.7 403.6,3108.4 436.4,3177.7 469.3,3108.4 473.9,3177.7 477.9,3039.2 479.9,3156.9 481.8,3039.2 483.8,3108.4 567.4,3177.7 651.6,3108.4 659.5,3177.7 664.7,3108.4 697.6,3177.7 729.2,3108.4 799.6,3177.7 868.2,3108.4 869.5,3123.7 870.9,3108.4 891.4,3177.7 911.3,3108.4 943.1,3177.7 974.3,3108.4 977.6,3163.8 981,3154.1 982.9,3039.2 984.9,3108.4 992.2,3177.7 1000.3,3108.4 1000.8,3039.2 1001.3,3108.4 1002.8,3108.4 1014.1,3177.7 1024,3108.4 1026,3039.2 1073.8,3177.7 1121.5,3108.4 1131.5,3177.7 1140.1,3108.4 1216.4,3177.7 1291.3,3108.4 1297.9,3177.7 1303.9,3108.4 1332.4,3177.7 1360.9,3108.4 1362.2,3163.8 1363.6,3108.4 1383.5,3177.7 1402,3108.4 1413.3,3177.7 1413.3,3177.7" fill="#0000ff" stroke="#000090" stroke-width="1" stroke-linejoin="miter" stroke-miterlimit="40"/>
<path d="M271.0 3039.2V3177.7" fill="none" stroke="#888" stroke-width="1.4"/>
<path d="M259.1 3039.2H271.5M259.1 3177.7H271.5" fill="none" stroke="#333" stroke-width="1"/>
<text x="252" y="3042.4" class="ax">76</text>
<text x="252" y="3180.9" class="ax">0</text>
<text x="74" y="3114.5" class="lab">GSM2481672</text>
<polygon points="274.5,3331.6 279.4,3331.6 281.8,3239.3 284.2,3292.5 285,3331.6 290.8,3285.4 296.8,3331.6 303.2,3285.4 310.4,3331.6 313.7,3285.4 317.5,3331.6 321.8,3285.4 325.7,3331.6 326.8,3331.6 329.2,3193.1 331.6,3304.1 337.1,3331.6 341.7,3285.4 346.7,3331.6 350.4,3285.4 354.4,3331.6 354.4,3331.6 356.8,3193.1 359.2,3310.5 363.4,3331.6 368.3,3331.6 370.7,3239.3 373.1,3331.6 374.7,3331.6 380.2,3285.4 384.8,3331.6 389.6,3285.4 394,3331.6 400.9,3285.4 408.2,3331.6 414,3285.4 417.2,3331.6 421.4,3285.4 424.8,3331.6 428.3,3285.4 435.4,3308.4 437.8,3239.3 440.2,3331.6 441.3,3285.4 447.9,3331.6 451.2,3285.4 457.4,3309.4 463.8,3285.4 467.7,3331.6 470.2,3295.7 472.6,3239.3 475,3331.6 475.5,3331.6 479.9,3285.4 485.5,3309.6 490.2,3285.4 495.6,3331.6 499.6,3285.4 503.1,3331.6 507.2,3285.4 511.2,3331.6 513,3310.2 515.4,3239.3 517.8,3331.6 518.9,3331.6 524.4,3285.4 531.6,3326.2 534.9,3285.4 542.1,3331.6 546.5,3285.4 552.6,3315.7 556,3285.4 561.2,3331.6 564.7,3285.4 569.4,3331.6 573.7,3285.4 579.6,3331.6 585.4,3331.6 587.8,3239.3 590.2,3313.5 591.8,3331.6 595.7,3285.4 622,3331.6 648.3,3285.4 652.5,3301.8 654.9,3239.3 657.3,3331.6 658.8,3331.6 662.9,3285.4 670.1,3314.8 674.1,3285.4 678.1,3331.6 684.9,3285.4 688.3,3331.6 693.8,3285.4 697.7,3331.6 703.3,3285.4 708.2,3331.6 714.7,3285.4 719.1,3331.6 722.8,3285.4 727.6,3331.6 733.1,3285.4 736.6,3331.6 739,3239.3 741.4,3309.5 742.8,3285.4 746.5,3325.7 750.6,3285.4 754.7,3319.1 761.4,3285.4 767,3331.6 770.5,3285.4 770.9,3302.3 773.3,3239.3 775.7,3291.4 779.8,3285.4 786.7,3331.6 790.8,3285.4 792.6,3313.4 795,3239.3 797.4,3293.4 798.9,3285.4 805.6,3331.6 807.1,3293.5 809.5,3239.3 811.9,3331.6 817.3,3331.6 821.8,3285.4 826.2,3331.6 833.2,3285.4 837,3314 840.7,3285.4 845.5,3318.6 850.5,3285.4 854,3331.6 859,3285.4 862.5,3299.7 864.9,3239.3 867.3,3298.4 871.8,3285.4 877.5,3331.6 882.9,3285.4 886.2,3331.6 891.8,3285.4 899.1,3331.6 901,3298.2 903.4,3239.3 905.8,3308.2 908.6,3331.6 913.7,3285.4 918.9,3310 921.3,3239.3 923.7,3304.8 929.8,3313.6 934.8,3285.4 938.8,3331.6 944.2,3285.4 951,3321.3 954.2,3285.4 957.7,3331.6 958.6,3331.6 961,3239.3 963.4,3316 968,3331.6 972.4,3285.4 979.2,3331.6 985.5,3285.4 991.1,3331.6 995.7,3285.4 998.4,3299.1 1000.8,3239.3 1003.1,3331.6 1005.5,3239.3 1007.9,3309.9 1008.4,3285.4 1012.3,3331.6 1013.6,3303 1016,3239.3 1018.4,3331.6 1020.3,3331.6 1024.1,3285.4 1027.3,3331.6 1033.9,3285.4 1037.2,3331.6 1041.5,3285.4 1041.6,3331.6 1044,3239.3 1046.4,3310.7 1048.8,3331.6 1052.4,3285.4 1055.8,3331.6 1060.4,3285.4 1061.4,3331.6 1063.8,3239.3 1066.2,3301.8 1069.8,3285.4 1075.9,3331.6 1079.4,3285.4 1080,3312.1 1082.4,3239.3 1084.8,3294.7 1086.5,3331.6 1093.6,3285.4 1099,3311.4 1102.3,3285.4 1105.5,3331.6 1109.1,3285.4 1112.4,3331.6 1116,3285.4 1123.3,3322.9 1128.2,3285.4 1131.7,3331.6 1137,3285.4 1140.3,3331.6 1144.7,3285.4 1148.7,3331.6 1153,3285.4 1156.2,3318.7 1163.2,3285.4 1170.2,3331.6 1177.4,3285.4 1182.3,3331.6 1189.6,3285.4 1196.9,3331.6 1204,3285.4 1207.3,3331.6 1211.5,3285.4 1216,3331.6 1219.5,3285.4 1220.6,3331.6 1223,3239.3 1225.4,3293.8 1226.4,3331.6 1230.7,3285.4 1234.5,3331.6 1238.7,3285.4 1242.9,3331.6 1246.9,3285.4 1250.5,3331.6 1255,3285.4 1260.2,3331.6 1266.7,3285.4 1270.1,3331.6 1276.4,3285.4 1281.1,3331.6 1284.9,3285.4 1291.4,3331.6 1293.6,3307.3 1296,3239.3 1298.4,3306.5 1302.5,3331.6 1309.5,3285.4 1315,3331.6 1321.5,3285.4 1325.1,3331.6 1330,3331.6 1332.4,3239.3 1334.8,3306.4 1335.7,3331.6 1341,3285.4 1346.1,3331.6 1350.5,3285.4 1354.8,3331.6 1359,3285.4 1365.6,3331.6 1368,3324.7 1372.3,3285.4 1377.7,3331.6 1378.4,3289.6 1380.8,3240.2 1383.2,3331.6 1386,3317.8 1391.5,3285.4 1394.8,3331.6 1401.5,3285.4 1404.8,3314.5 1410.4,3285.4 1414.6,3331.6 1417.6,3289.2 1419.6,3289.8 1422,3239.3 1423.3,3331.6" fill="#0000ff" stroke="#000090" stroke-width="1" stroke-linejoin="miter" stroke-miterlimit="40"/>
<path d="M271.0 3193.1V3331.6" fill="none" stroke="#888" stroke-width="1.4"/>
<path d="M259.1 3193.1H271.5M259.1 3331.6H271.5" fill="none" stroke="#333" stroke-width="1"/>
<text x="252" y="3196.3" class="ax">11</text>
<text x="252" y="3334.8" class="ax">0</text>
<text x="74" y="3268.5" class="lab">GSM2481671</text>
<polygon points="275.9,3485.5 275.9,3485.5 281.8,3347 283.3,3347 298.4,3477.2 313.9,3347 404.9,3485.5 495.7,3347 754.9,3485.5 1014.1,3347 1017.4,3485.5 1022.7,3347 1048.6,3485.5 1073.8,3347 1183.2,3485.5 1295.9,3347 1358.9,3485.5 1358.9,3485.5" fill="#0000ff" stroke="#000090" stroke-width="1" stroke-linejoin="miter" stroke-miterlimit="40"/>
<path d="M271.0 3347V3485.5" fill="none" stroke="#888" stroke-width="1.4"/>
<path d="M259.1 3347H271.5M259.1 3485.5H271.5" fill="none" stroke="#333" stroke-width="1"/>
<text x="252" y="3350.2" class="ax">129</text>
<text x="252" y="3488.7" class="ax">0</text>
<text x="74" y="3422.4" class="lab">GSM2481670</text>
<polygon points="274.5,3639.5 276.4,3622.1 277.8,3622.6 278.9,3622.1 279.9,3622 281.4,3604.8 283.5,3639.5 283.6,3639.5 285.1,3570.2 286.6,3631 287.2,3628.5 288.6,3604.8 290.5,3621.9 293.2,3587.5 294.5,3625.9 296.2,3639.5 297.3,3620.7 299.7,3587.5 300.8,3628 303.6,3604.8 305.4,3629.2 307.4,3604.8 308.4,3621.3 310.7,3587.5 312.9,3630.1 314.4,3604.8 316.5,3631.1 318,3570.2 318.9,3626.1 321.3,3535.6 323.7,3639.5 325.6,3630.1 327.4,3587.5 328.4,3621.2 331,3622.1 333.9,3628.4 335.2,3622.1 338.2,3621.5 339.4,3604.8 341.4,3627.6 342.2,3639.5 343.7,3570.2 345.2,3639.5 345.2,3626.3 348.2,3587.5 349.3,3632.5 349.6,3623.5 352,3552.9 354.4,3633.9 356,3639.5 357.5,3570.2 359,3631.5 359.5,3625.2 361.5,3604.8 364.1,3628.5 364.3,3626.3 366.7,3552.9 369.1,3629.2 369.7,3587.5 371.8,3621 373.1,3622.1 374.3,3632.2 375.8,3622.1 376.8,3621 379,3622.6 380.5,3570.2 382,3626.2 382.9,3604.8 384.8,3623.2 386.4,3604.8 386.9,3633.8 388.4,3570.2 389.9,3633 390.1,3639.5 391.7,3622.1 394.6,3625.8 397,3604.8 398.1,3628.2 399.1,3587.5 401.7,3628.4 403.5,3604.8 405.9,3626.3 408.1,3604.8 410.9,3621.6 412.2,3604.8 413.6,3627 414.3,3626.1 416.7,3552.9 419.1,3631.1 421.4,3629 422.6,3604.8 423.9,3630 426.9,3604.8 428.1,3622.5 429.7,3604.8 430.9,3627.2 432,3587.5 435,3623.4 436.6,3604.8 437.6,3620.8 439.5,3622.1 442,3624.8 443.1,3622.1 445.3,3623.8 447.9,3604.8 448.1,3633.5 449.6,3570.2 451.1,3630.4 452,3604.8 455.1,3639.5 456.8,3622.1 459.7,3631.3 462,3587.5 463.8,3623.2 465,3622.1 466.7,3632.3 469.2,3639.5 470.7,3570.2 472.2,3624.9 472.6,3639.5 473.6,3623.5 476.4,3604.8 477.7,3625.1 479.9,3622.1 482.4,3632.5 484.8,3604.8 486.4,3628.9 488.5,3604.8 491.3,3625.4 492.4,3622.1 494.7,3623.6 495.8,3604.8 497.8,3631 499.5,3622.1 501.1,3626.8 502.3,3604.8 504.3,3632.4 505.6,3622.1 508,3630.8 509.6,3622.1 509.9,3626.4 511.4,3570.2 512.9,3626 513,3604.8 514.4,3621.9 515.8,3622.1 516.5,3630.9 518,3570.2 519.5,3633.7 519.7,3604.8 522.1,3639.5 524.2,3604.8 525.1,3625.7 526.6,3570.2 528.1,3622.3 529.2,3626.8 531.7,3570.2 532.7,3629.5 534.4,3587.5 535.5,3624.4 536.9,3604.8 538,3627.1 538.2,3624 539.7,3570.2 541.2,3633.8 541.5,3639.5 543,3570.2 544.5,3632 544.8,3639.5 545.8,3587.5 546.8,3628.6 548.7,3587.5 551.1,3639.5 552.8,3587.5 554.2,3622.5 555.2,3639.5 556.3,3630.8 558.8,3604.8 561.3,3631 563.4,3622.1 566.5,3630.1 569.3,3604.8 572.1,3631.3 573.5,3587.5 575.7,3621.1 577.5,3622.1 578.6,3629 581,3604.8 582.1,3621.1 583.8,3587.5 586.5,3623.5 587.5,3604.8 589.3,3623.1 591.6,3587.5 592.6,3627.4 593.6,3604.8 594.6,3629.9 595.8,3604.8 596.9,3626.4 598.2,3622.1 599.4,3629.5 602.4,3604.8 604.2,3630.2 605.2,3570.2 608.2,3626.6 609.3,3622.1 610.9,3625.2 613.8,3604.8 615.2,3629.5 616.3,3622.1 617.3,3620.5 618.5,3587.5 621.1,3632.4 624.2,3587.5 625.3,3621.5 627.1,3587.5 628.9,3631.5 630.6,3604.8 633.5,3627.6 636,3604.8 638.6,3631.6 639.7,3587.5 640.9,3623.5 642.6,3622.1 645,3625.4 646,3570.2 648.2,3629.6 650.1,3628.6 651.6,3570.2 653.1,3639.5 654.2,3630.9 656.7,3587.5 659,3631.7 660.2,3604.8 661.6,3628.3 663.1,3622.1 664.2,3625.7 667.3,3639.5 668.5,3632.3 670.7,3622.1 672.9,3622.7 675.4,3587.5 677.3,3626.9 678.7,3604.8 681.3,3628.9 684.1,3587.5 686.3,3628.4 687.8,3570.2 689.3,3625.6 690.2,3628.3 691.6,3604.8 694.2,3620.7 695.5,3587.5 697.7,3620.7 699.4,3622.1 701.4,3626.1 701.8,3639.5 704.2,3552.9 706.6,3631.9 707.9,3623.8 710.2,3604.8 710.6,3639.5 712.1,3570.2 713.6,3639.5 714.1,3639.5 717.1,3621.9 719.2,3639.5 720.7,3570.2 722.2,3629.6 723.1,3639.5 724.5,3622.6 727.5,3604.8 728.8,3626.6 730.5,3604.8 732.5,3629.6 734.2,3587.5 736.9,3639.5 738.2,3604.8 739.2,3624.2 740.8,3587.5 742.8,3628.4 743.5,3628.9 745,3570.2 746.5,3625.8 746.5,3587.5 748.1,3632 750.4,3604.8 752.2,3625.6 753.5,3622.1 756.5,3639.5 757.5,3604.8 759.2,3630.8 762.2,3587.5 763.3,3628.8 764.8,3604.8 767,3627.2 769.7,3604.8 771.1,3625.2 773.2,3604.8 774.5,3632.4 775.5,3604.8 777.3,3632.3 778.9,3604.8 781.8,3639.5 783.5,3587.5 784.5,3631.9 785.6,3587.5 787.8,3627.9 788.2,3639.5 789.7,3570.2 791.2,3623.7 791.9,3631.1 794.4,3622.1 797.1,3629.2 798.5,3622.1 801.1,3627.6 803.2,3622.1 804.9,3630.7 806.7,3639.5 808.2,3570.2 809.3,3633.2 810.8,3570.2 812.3,3623.6 812.5,3622.1 813.7,3629.3 815.1,3622.1 816.3,3625.8 818.8,3604.8 820.4,3628 822.7,3604.8 824.4,3639.5 826.4,3604.8 827.7,3625.4 829.5,3604.8 831.5,3629.5 832.7,3570.2 834.8,3629.8 835.8,3604.8 837,3630.4 838.2,3622.1 839.5,3629.1 840.9,3622.1 843.6,3631.5 845.6,3622.1 846.8,3622.1 849.2,3630.3 851.6,3552.9 854,3625.3 854.9,3632.1 857.9,3622.1 860,3630.4 862.5,3639.5 864.6,3626.5 865.9,3587.5 867.3,3622.8 869.8,3604.8 872.3,3623.3 873.3,3630 874.8,3570.2 876.3,3629.5 877.5,3624.2 879.8,3622.1 881.4,3620.7 883.3,3628.7 884.8,3570.2 886.3,3639.5 887.8,3587.5 889.2,3624.4 890.3,3587.5 891.5,3622.9 893.4,3604.8 895.7,3621.6 897.3,3604.8 899.2,3621.9 901.5,3587.5 902.5,3629.3 905.5,3587.5 908.2,3639.5 909.3,3622.1 909.8,3639.5 911.3,3570.2 912.8,3632.2 913.8,3622.1 916.2,3621.3 918.2,3622.1 920.5,3620.6 920.8,3639.5 923.2,3552.9 925.6,3628.8 928,3604.8 929.6,3622.7 930.7,3604.8 933.3,3628.5 935.3,3587.5 937.2,3623.8 939.1,3639.5 940.3,3631.7 942.4,3587.5 943,3627 944.5,3570.2 946,3628.8 947,3625.1 948.8,3587.5 949.9,3624.6 952.1,3604.8 952.9,3626.2 954.4,3570.2 955.9,3639.5 957.9,3628.4 959.5,3622.1 961.9,3626.2 962.9,3623.6 964.4,3570.2 965.9,3632.6 967.2,3625.3 969.8,3587.5 971.9,3633.8 974.3,3535.6 976.7,3624.7 977.3,3622.1 980.3,3623.7 981.4,3622.1 984,3632.2 985.2,3622.1 986.9,3628.8 988.7,3622.1 989.4,3633.3 990.9,3570.2 992.4,3639.5 994.5,3639.5 995.7,3604.8 996.9,3623.2 999.1,3604.8 1001.2,3628.2 1002.6,3622.1 1004.7,3630.9 1007.2,3604.8 1010.1,3626 1010.4,3633.7 1012.8,3535.6 1015.2,3639.5 1016.3,3587.5 1016.3,3626.8 1018.7,3552.9 1021.1,3625.6 1022.9,3604.8 1024.9,3639.5 1026.6,3570.2 1027.9,3630.4 1029.2,3623.2 1030.7,3570.2 1032.2,3633 1033.9,3604.8 1036.3,3630.9 1037.6,3639.5 1040,3535.6 1042.4,3631.6 1042.4,3587.5 1045.1,3624.2 1046.1,3622.1 1047.8,3627.1 1049.1,3639.5 1050.6,3570.2 1052.1,3628.2 1054.4,3587.5 1055.9,3620.8 1057.3,3587.5 1058.8,3624.5 1060.8,3604.8 1061.8,3623.8 1062.3,3639.5 1063.8,3570.2 1065.3,3624.8 1065.4,3622.5 1066.4,3604.8 1067.5,3622.9 1069,3604.8 1070.8,3639.5 1072.4,3604.8 1074.7,3629.2 1075.4,3623.5 1077.8,3501 1080.2,3639.5 1081,3630 1082.2,3639.5 1085,3621.2 1086.2,3604.8 1088.7,3631.6 1088.9,3625 1090.4,3570.2 1091.9,3629.6 1092.3,3587.5 1093.4,3625 1095.6,3604.8 1098,3639.5 1100.2,3604.8 1102.7,3629 1105,3622.1 1106,3631.2 1108.6,3587.5 1108.8,3639.5 1110.3,3570.2 1111.8,3624 1112.3,3621.9 1113.5,3622.1 1114.6,3630.6 1116.7,3604.8 1118,3624.4 1119.1,3604.8 1121.7,3622.1 1124.7,3570.2 1125.9,3632 1127.2,3587.5 1128.2,3620.7 1128.6,3631.4 1130.1,3570.2 1131.6,3633 1132.3,3587.5 1135.1,3627.6 1136.5,3570.2 1138,3621.8 1139.3,3622.1 1141.2,3628.5 1143,3570.2 1144.4,3627.6 1147.4,3604.8 1149.3,3626.3 1150.5,3604.8 1151.8,3623.3 1151.9,3639.5 1153.4,3570.2 1154.9,3639.5 1155.2,3626.9 1156.6,3587.5 1159.2,3639.5 1160.8,3622.1 1161.8,3631.2 1163.3,3570.2 1164.8,3639.5 1165.5,3604.8 1168,3629.1 1169.7,3622.1 1172.6,3631.4 1172.8,3622.5 1175.2,3552.9 1177.6,3633.2 1177.9,3622 1179.1,3587.5 1180.2,3631.1 1181.7,3639.5 1183.2,3570.2 1184.7,3634 1185.8,3622.1 1188.5,3631.3 1189.8,3604.8 1191,3622.6 1192.7,3604.8 1194.2,3632.2 1197.1,3570.2 1199.5,3622.1 1200.9,3604.8 1203.4,3629.1 1204.4,3604.8 1206,3624.1 1207.8,3587.5 1210,3625.4 1213.1,3587.5 1214.8,3629.6 1216.5,3622.1 1217.5,3639.5 1219.3,3604.8 1220.9,3627.5 1221.5,3629.2 1223,3570.2 1224.5,3639.5 1225.5,3587.5 1227.6,3626 1230.3,3604.8 1231.5,3622.5 1232.8,3604.8 1235.1,3622.4 1236.1,3570.2 1239.1,3628.2 1240.5,3639.5 1242.9,3552.9 1245.3,3630.3 1246.7,3627.1 1249.6,3587.5 1250.8,3623.2 1252.3,3587.5 1253.5,3631.8 1255,3604.8 1257,3628.5 1259.7,3639.5 1261.2,3624.1 1262.8,3587.5 1264.9,3632.5 1267.5,3604.8 1267.9,3622.6 1269.4,3570.2 1270.9,3624.4 1272.3,3604.8 1274.1,3628.7 1275.2,3622.1 1276.9,3639.5 1278,3604.8 1279.4,3628.1 1280.5,3622.1 1281.2,3627.8 1282.7,3570.2 1284.2,3626.8 1285.1,3604.8 1288,3623.9 1290.5,3622.1 1292.7,3624.5 1294.2,3587.5 1294.4,3639.5 1295.9,3570.2 1297.4,3624.9 1298.3,3587.5 1300.1,3627.7 1303,3604.8 1304.9,3630.7 1307.4,3570.2 1307.7,3639.5 1309.2,3570.2 1310.7,3624.1 1310.9,3587.5 1313,3639.5 1314.1,3604.8 1315.4,3628.9 1317.8,3552.9 1320.2,3639.5 1322.1,3622.1 1323.4,3639.5 1325.7,3622.1 1327.6,3625.9 1329.1,3570.2 1330.6,3632.1 1332.2,3639.5 1334.6,3604.8 1336.7,3621.3 1337.8,3622.1 1340.2,3626.7 1341.4,3604.8 1343.2,3630.6 1345,3622.1 1346,3624.8 1347.3,3604.8 1348.3,3639.5 1350.5,3604.8 1351.5,3632.3 1351.9,3630.3 1354.3,3552.9 1356.7,3632.6 1357.5,3622.9 1360.2,3622.1 1362.6,3639.5 1364.2,3587.5 1365.7,3621.1 1367.4,3639.5 1368.9,3570.2 1370.4,3629.4 1370.6,3631.5 1373.4,3587.5 1374,3639.5 1375.5,3570.2 1377,3630.2 1377.4,3622.1 1378.8,3624.3 1380.9,3587.5 1382.1,3629.9 1384.1,3587.5 1385.9,3626.4 1387.1,3587.5 1387.3,3634.1 1388.8,3570.2 1390.3,3629.6 1393,3622.9 1394.3,3639.5 1396.7,3552.9 1399.1,3629 1401,3626.4 1402.9,3629.8 1405.3,3552.9 1407.7,3630.2 1408.7,3570.2 1410.2,3632.3 1410.3,3622.1 1411.7,3620.8 1413.6,3622.1 1416.3,3629.6 1417.6,3632.2 1420,3501 1422.4,3626.6 1423.3,3639.5" fill="#0000ff" stroke="#000090" stroke-width="1" stroke-linejoin="miter" stroke-miterlimit="40"/>
<path d="M271.0 3501V3639.5" fill="none" stroke="#888" stroke-width="1.4"/>
<path d="M259.1 3501H271.5M259.1 3639.5H271.5" fill="none" stroke="#333" stroke-width="1"/>
<text x="252" y="3504.2" class="ax">7</text>
<text x="252" y="3642.7" class="ax">0</text>
<text x="74" y="3576.3" class="lab">GSM2481669</text>
<polygon points="271.6,3793.4 271.6,3724.1 272.9,3758.8 274.9,3780.9 276.9,3793.4 277.5,3777.9 279.9,3689.5 282.1,3793.4 284.5,3689.5 286.9,3779.9 289.4,3772.6 291.2,3778.1 292.5,3758.8 294.8,3765.7 296.8,3758.8 298.4,3793.4 302.1,3758.8 303.6,3793.4 307.1,3758.8 308.4,3793.4 311.2,3758.8 314.6,3781.3 316.4,3758.8 319.9,3777.1 321.1,3762 322.6,3724.1 324.1,3777.4 327,3767.1 328.8,3758.8 330.1,3771.1 334.1,3772.6 335.4,3780.2 337.5,3758.8 337.6,3793.4 339.1,3724.1 340.6,3766 341,3758.8 343.2,3771.7 346.9,3758.8 348.4,3776.3 350.5,3772.6 350.7,3793.4 352.2,3724.1 353.7,3778.6 355.4,3758.8 356,3793.4 357.5,3724.1 359,3769.5 359.5,3758.8 361.6,3774 362.6,3793.4 364.1,3724.1 365.6,3782.1 367.8,3775.4 371.5,3758.8 373.2,3782.4 375.2,3772.6 376.9,3770.2 378.3,3758.8 379,3793.4 380.5,3724.1 382,3793.4 384.7,3758.8 385.9,3793.4 389,3772.6 390.9,3774.9 392.2,3773.7 393.7,3724.1 395.2,3760.7 396.4,3758.8 399.3,3772.4 402,3772.6 405.1,3793.4 406.3,3772.6 407.7,3793.4 411,3793.4 413.4,3689.5 415.8,3793.4 416.8,3772.6 420.8,3774.2 422,3758.8 423.4,3793.4 426.7,3772.6 427.7,3767.6 429.2,3724.1 430.7,3780.5 431.3,3758.8 435.4,3793.4 438.1,3758.8 439.3,3781.4 440.6,3758.8 442.8,3769.1 443.9,3793.4 446.3,3689.5 448.7,3793.4 450.1,3774 453.2,3758.8 454,3760.9 455.5,3724.1 457,3780.9 458.5,3776.4 459.3,3761.6 460.8,3724.1 461.6,3768.5 464,3654.9 466.4,3766.7 467.6,3758.8 468.8,3793.4 470.2,3758.8 472.5,3779.1 475.6,3793.4 478,3793.4 481.2,3758.8 483,3768.5 484.7,3758.8 486.3,3793.4 490.1,3758.8 491.3,3769.1 494.5,3772.6 495.8,3772.9 498.6,3758.8 500.5,3769.6 502.6,3758.8 505,3793.4 506.5,3772.6 507.7,3778.6 510.9,3772.6 512.3,3772.3 514.7,3689.5 517.1,3793.4 517.8,3774.3 520.3,3772.6 523.1,3776.8 523.8,3771.5 525.3,3724.1 526.8,3782.9 528,3778.4 529.4,3758.8 530.7,3768.3 532.4,3772.6 534.1,3782.1 535.4,3758.8 536.9,3775.2 538.2,3766.5 539.7,3724.1 541.2,3766.7 543.2,3793.4 546.5,3758.8 547.9,3771.9 549.8,3772.6 550.5,3767.4 552.9,3689.5 555.3,3766.8 556.8,3769.4 560.6,3772.6 561.3,3761.5 562.8,3724.1 564.3,3764.7 566.9,3778.5 567.8,3770.8 569.3,3724.1 570.8,3793.4 573.1,3758.8 574.4,3766.8 575.9,3724.1 577.4,3793.4 577.8,3758.8 578.9,3758.8 593.8,3793.4 608.8,3758.8 610.6,3758.8 610.6,3781.5 612.1,3724.1 613.6,3793.4 615,3772.6 617.7,3793.4 620.5,3777.5 622,3724.1 623.5,3765.7 624.2,3793.4 625.4,3758.8 628.7,3793.4 632.1,3758.8 635.6,3775.2 636.9,3793.4 638.4,3724.1 639.9,3761.7 642.4,3772.6 643.6,3793.4 645.5,3758.8 648.9,3769.1 652.5,3778.5 654.9,3689.5 657.3,3769.4 658.9,3758.8 660.1,3777.6 661.4,3758.8 662.3,3793.4 664.7,3689.5 667.1,3778.6 668.1,3772.6 671.9,3772.3 673.9,3758.8 675.8,3770.9 677.8,3758.8 679.8,3770.8 681,3793.4 682.5,3724.1 684,3775.7 687.1,3758.8 687.3,3793.4 689.7,3689.5 692.1,3759.1 693.5,3758.8 694.8,3793.4 696.4,3758.8 697.4,3793.4 698.9,3724.1 700.4,3793.4 701.9,3758.8 703.7,3766.6 704.9,3758.8 708.1,3770.7 710.2,3793.4 711.4,3765.8 712.7,3772.6 713,3781.4 715,3775.3 717.4,3689.5 719.8,3793.4 721.8,3771.7 723.7,3758.8 725.7,3766.9 728.1,3766.3 730.5,3689.5 732.9,3764 734.5,3793.4 736.5,3775.5 738.9,3780 740.4,3724.1 741.9,3793.4 744.7,3793.4 747.4,3758.8 748.9,3777.1 752.1,3758.8 753.3,3778 757.3,3758.8 758.6,3772.3 760.1,3724.1 761.6,3793.4 762.2,3793.4 763.5,3758.8 764.9,3793.4 767.3,3758.8 770,3781.1 773.2,3772.6 777.3,3793.4 778.4,3762 779.9,3724.1 781.4,3765.5 782.5,3758.8 783.7,3765.8 786.8,3758.8 788.2,3777.9 789.7,3724.1 791.2,3760.3 791.5,3759.1 793,3724.1 794.5,3759.9 794.7,3781.2 796.8,3758.8 800,3774.2 802.7,3778.5 804.2,3724.1 805.7,3780.8 807.5,3758.8 808.9,3776.7 811.1,3758.8 812.9,3771.9 814.5,3772.6 817.3,3767 819.3,3758.8 819.8,3778.9 821.3,3724.1 822.8,3764.8 825.5,3772.6 825.7,3783 827.2,3724.1 828.7,3782.4 831.3,3758.8 833,3777.1 834.5,3724.1 836,3759.9 836.4,3758.8 838,3780 839.7,3758.8 840.9,3774.3 842.3,3793.4 843.9,3793.4 845.1,3772.6 846.8,3793.4 848.4,3758.8 849.2,3773.7 851.6,3689.5 854,3793.4 855.8,3758.8 858.3,3768.6 861.7,3758.8 862.9,3793.4 866.5,3758.8 869.8,3774.5 872.4,3771.6 874.8,3689.5 877.2,3793.4 878,3793.4 879.5,3724.1 881,3762.1 882,3768.7 883.5,3724.1 885,3778.6 885.1,3782.3 886.6,3762.3 888.1,3724.1 889.6,3793.4 891.2,3779.6 893.7,3772.6 895.2,3793.4 896.7,3724.1 898.2,3769.3 900.7,3780 903,3758.8 906,3793.4 907.5,3772.6 909.2,3793.4 911.1,3758.8 911.1,3793.4 912.6,3724.1 914.1,3778.6 916.6,3758.8 918.8,3774.3 921.5,3772.6 923.7,3773.5 925.3,3772.6 926.8,3780.6 927.7,3773.4 929.2,3724.1 930.7,3763.7 933.3,3758.8 935.3,3777.3 938.6,3758.8 940.2,3769.5 941.4,3758.8 944.3,3793.4 945.9,3758.8 949.3,3774.6 951.4,3758.8 953.4,3771.3 955.3,3772.6 956.5,3793.4 959.6,3758.8 963.6,3793.4 965.1,3758.8 967.4,3793.4 968.7,3758.8 970.1,3793.4 971.3,3758.8 971.5,3766.3 973,3724.1 974.5,3777.4 975.2,3772.6 976.4,3780.8 977.8,3758.8 979.4,3760.2 980.9,3724.1 982.4,3760.2 984.3,3758.8 987,3766.9 988.1,3776.3 989.6,3724.1 991.1,3777.2 993.1,3770.5 996.5,3758.8 998.4,3793.4 999.3,3793.4 1000.8,3724.1 1002.3,3766.3 1004.4,3772.3 1005.8,3758.8 1006,3772.4 1007.5,3724.1 1009,3774.4 1010.2,3758.8 1014.4,3766.7 1017,3758.8 1018.6,3793.4 1020.3,3772.6 1023.9,3793.4 1025.7,3758.8 1027.2,3793.4 1028.7,3724.1 1030.2,3793.4 1030.7,3768.5 1033,3758.8 1034.8,3793.4 1036.4,3772.6 1037.1,3776.3 1038.6,3724.1 1040.1,3793.4 1043,3772.6 1044.3,3768.4 1047,3758.8 1048.2,3793.4 1051.2,3758.8 1054.3,3767.4 1057.2,3758.8 1059.2,3793.4 1061.6,3758.8 1065.5,3776.5 1065.6,3777.7 1067.1,3724.1 1068.6,3793.4 1068.9,3758.8 1072.3,3793.4 1075.6,3772.6 1077.6,3793.4 1079.1,3724.1 1080.6,3779.2 1081.3,3772.6 1081.3,3780.1 1083.7,3654.9 1086.1,3773.2 1086.5,3758.8 1086.6,3793.4 1089,3689.5 1091.4,3793.4 1093.4,3781.4 1094.2,3793.4 1095.7,3724.1 1097.2,3769.6 1099.6,3772.6 1101.1,3793.4 1101.2,3774.9 1103.6,3689.5 1106,3775.8 1106.9,3775 1108.2,3758.8 1110,3778.5 1112.1,3764.2 1113.6,3724.1 1115.1,3773.3 1116.5,3758.8 1119.9,3793.4 1121.2,3758.8 1122.7,3793.4 1124.3,3758.8 1126.7,3775.8 1128.2,3724.1 1129.7,3759.7 1131.2,3758.8 1132.5,3793.4 1136.5,3758.8 1137.8,3773.1 1140.8,3758.8 1142.7,3779.9 1143.2,3765.4 1144.7,3724.1 1146.2,3782 1146.4,3777.4 1147.7,3772.6 1148.5,3793.4 1150,3724.1 1151.5,3793.4 1152.2,3758.8 1156.1,3773.9 1160.1,3758.8 1161.5,3776.5 1163.9,3772.6 1165.7,3793.4 1167.1,3793.4 1168.6,3724.1 1170.1,3793.4 1171.1,3793.4 1172.3,3758.8 1176.1,3772.9 1177.5,3758.8 1180.2,3793.4 1181.6,3772.6 1184.3,3793.4 1185.6,3758.8 1187.7,3775.4 1191.6,3772.6 1192.8,3793.4 1195,3760.2 1196.5,3724.1 1198,3767.1 1200.4,3774.3 1202.6,3758.8 1205.7,3793.4 1208.6,3772.6 1209.9,3772 1211.4,3758.8 1213.2,3793.4 1216.6,3758.8 1220.4,3767.4 1221.6,3772.6 1223.5,3776.2 1225,3724.1 1226.5,3767.3 1227,3772.6 1229.2,3793.4 1230.4,3758.8 1232.5,3770.6 1233.7,3758.8 1235.2,3793.4 1237.2,3793.4 1239.6,3689.5 1242,3760.4 1244.8,3758.8 1246.3,3793.4 1249.6,3772.6 1251.1,3793.4 1254.7,3772.6 1258.4,3767.3 1259.3,3793.4 1260.8,3724.1 1262.3,3793.4 1262.6,3770.6 1264.1,3724.1 1265.6,3769.6 1265.7,3772.6 1269.3,3778.1 1272.6,3758.8 1273.8,3793.4 1275.5,3772.6 1278,3777.7 1280.7,3758.8 1284.4,3767.4 1285.9,3758.8 1287.1,3793.4 1289.1,3793.4 1290.6,3724.1 1292.1,3793.4 1293.6,3772.1 1294.9,3758.8 1299,3793.4 1300.5,3758.8 1302.4,3774.8 1303.7,3758.8 1307.2,3793.4 1309.8,3758.8 1313.8,3782.6 1315.5,3758.8 1316.3,3793.4 1317.8,3724.1 1319.3,3773.5 1321.6,3775.8 1322.9,3772.6 1324.9,3781.8 1325.6,3760 1327.1,3724.1 1328.6,3782.4 1329.8,3793.4 1331.2,3758.8 1333.3,3793.4 1334.5,3758.8 1338.1,3768.4 1342.3,3758.8 1343.9,3793.4 1344.2,3764.5 1345.7,3724.1 1347.2,3793.4 1350.4,3768.7 1350.8,3764.4 1352.3,3724.1 1353.8,3764.6 1354.4,3758.8 1356.1,3779.2 1357.6,3724.1 1359.1,3793.4 1359.8,3772.6 1362.4,3780.9 1365,3758.8 1366.4,3766.4 1370.1,3772.6 1372.1,3778.1 1374,3758.8 1377.3,3770.8 1380.2,3772.6 1382,3793.4 1383.5,3724.1 1385,3778.8 1385.7,3758.8 1387,3781.5 1390.5,3758.8 1390.6,3771.1 1392.1,3724.1 1393.6,3765.1 1394.5,3758.8 1395.9,3777.5 1398.1,3772.6 1399.2,3770.8 1400.7,3724.1 1402.2,3782.6 1403.7,3758.8 1405,3778 1406.3,3779.3 1408.7,3689.5 1411.1,3763.3 1412.4,3772.6 1412.5,3793.4 1414,3724.1 1415.1,3793.4 1416.6,3724.1 1418.1,3781.3 1419.7,3793.4 1423.3,3793.4" fill="#0000ff" stroke="#000090" stroke-width="1" stroke-linejoin="miter" stroke-miterlimit="40"/>
<path d="M271.0 3654.9V3793.4" fill="none" stroke="#888" stroke-width="1.4"/>
<path d="M259.1 3654.9H271.5M259.1 3793.4H271.5" fill="none" stroke="#333" stroke-width="1"/>
<text x="252" y="3658.1" class="ax">11</text>
<text x="252" y="3796.6" class="ax">0</text>
<text x="74" y="3730.2" class="lab">GSM2481668</text>
<text x="782" y="3903.6" style="font-size:36.5px">NRXN2</text>
<path d="M290 3957.5H1415" stroke="#333" stroke-width="1.2" fill="none"/>
<path d="M316.6 3948.1L306.8 3957.5L316.6 3966.9M354.3 3948.1L344.5 3957.5L354.3 3966.9M391.7 3948.1L381.9 3957.5L391.7 3966.9M426.3 3948.1L416.5 3957.5L426.3 3966.9M462.0 3948.1L452.2 3957.5L462.0 3966.9M494.3 3948.1L484.5 3957.5L494.3 3966.9M537.7 3948.1L527.9 3957.5L537.7 3966.9M571.9 3948.1L562.1 3957.5L571.9 3966.9M587.6 3948.1L577.8 3957.5L587.6 3966.9M625.5 3948.1L615.7 3957.5L625.5 3966.9M664.1 3948.1L654.3 3957.5L664.1 3966.9M701.7 3948.1L691.9 3957.5L701.7 3966.9M733.2 3948.1L723.4 3957.5L733.2 3966.9M752.7 3948.1L742.9 3957.5L752.7 3966.9M771.9 3948.1L762.1 3957.5L771.9 3966.9M826.3 3948.1L816.5 3957.5L826.3 3966.9M864.0 3948.1L854.2 3957.5L864.0 3966.9M897.1 3948.1L887.3 3957.5L897.1 3966.9M934.5 3948.1L924.7 3957.5L934.5 3966.9M992.8 3948.1L983.0 3957.5L992.8 3966.9M1030.5 3948.1L1020.7 3957.5L1030.5 3966.9M1078.7 3948.1L1068.9 3957.5L1078.7 3966.9M1112.7 3948.1L1102.9 3957.5L1112.7 3966.9M1129.7 3948.1L1119.9 3957.5L1129.7 3966.9M1167.5 3948.1L1157.7 3957.5L1167.5 3966.9M1189.8 3948.1L1180.0 3957.5L1189.8 3966.9M1226.9 3948.1L1217.1 3957.5L1226.9 3966.9M1264.6 3948.1L1254.8 3957.5L1264.6 3966.9M1302.0 3948.1L1292.2 3957.5L1302.0 3966.9M1337.3 3948.1L1327.5 3957.5L1337.3 3966.9M1374.9 3948.1L1365.1 3957.5L1374.9 3966.9M1412.4 3948.1L1402.6 3957.5L1412.4 3966.9" stroke="#333" stroke-width="1.3" fill="none"/>
<rect x="280.7" y="3910.2" width="9.4" height="94.4" fill="#000"/>
<rect x="408.7" y="3910.2" width="1.7" height="94.4" fill="#000"/>
<rect x="432.8" y="3910.2" width="4.1" height="94.4" fill="#000"/>
<rect x="469.2" y="3910.2" width="1.5" height="94.4" fill="#000"/>
<rect x="507.5" y="3910.2" width="2.7" height="94.4" fill="#000"/>
<rect x="555.3" y="3910.2" width="2.5" height="94.4" fill="#000"/>
<rect x="626.7" y="3910.2" width="3.1" height="94.4" fill="#000"/>
<rect x="682" y="3910.2" width="2.0" height="94.4" fill="#000"/>
<rect x="687" y="3910.2" width="2.5" height="94.4" fill="#000"/>
<rect x="704" y="3910.2" width="2.5" height="94.4" fill="#000"/>
<rect x="712" y="3910.2" width="4.0" height="94.4" fill="#000"/>
<rect x="719.3" y="3910.2" width="2.5" height="94.4" fill="#000"/>
<rect x="735.8" y="3910.2" width="1.4" height="94.4" fill="#000"/>
<rect x="801.1" y="3910.2" width="2.4" height="94.4" fill="#000"/>
<rect x="804.9" y="3910.2" width="4.6" height="94.4" fill="#000"/>
<rect x="868.6" y="3910.2" width="4.6" height="94.4" fill="#000"/>
<rect x="880.2" y="3910.2" width="2.0" height="94.4" fill="#000"/>
<rect x="963.4" y="3910.2" width="1.7" height="94.4" fill="#000"/>
<rect x="1048.5" y="3910.2" width="3.7" height="94.4" fill="#000"/>
<rect x="1095" y="3910.2" width="1.8" height="94.4" fill="#000"/>
<rect x="1118.7" y="3910.2" width="1.5" height="94.4" fill="#000"/>
<rect x="1166.9" y="3910.2" width="1.5" height="94.4" fill="#000"/>
<rect x="1313.3" y="3910.2" width="1.4" height="94.4" fill="#000"/>
<rect x="1316.1" y="3910.2" width="7.8" height="94.4" fill="#000"/>
<rect x="270.5" y="3934.0" width="10.2" height="47.1" fill="#000"/>
<rect x="436.9" y="3934.0" width="8.7" height="47.1" fill="#000"/>
<rect x="576" y="3934.0" width="1.5" height="47.1" fill="#000"/>
<rect x="629.8" y="3934.0" width="6.8" height="47.1" fill="#000"/>
<rect x="758.7" y="3934.0" width="1.5" height="47.1" fill="#000"/>
<rect x="774.3" y="3934.0" width="26.8" height="47.1" fill="#000"/>
<rect x="809.5" y="3934.0" width="2.2" height="47.1" fill="#000"/>
<rect x="939.5" y="3934.0" width="23.9" height="47.1" fill="#000"/>
<rect x="1323.9" y="3934.0" width="2.3" height="47.1" fill="#000"/>
<rect x="1413.9" y="3934.0" width="2.9" height="47.1" fill="#000"/>
<path d="M270.9 4062.9H1423.8M270.9 4120.7H1423.8" stroke="#888" stroke-width="1.5" fill="none"/>
<path d="M406.2 4120.7V4151M602.1 4120.7V4151M798 4120.7V4151M993.9 4120.7V4151M1189.8 4120.7V4196M1385.7 4120.7V4151" stroke="#444" stroke-width="1.2" fill="none"/>
<text x="1150" y="4212.3" style="font-size:24px">64.7Mb</text>
<text x="74.3" y="4109.4" style="font-size:48px">chr11</text>
</svg>
</body></html>
